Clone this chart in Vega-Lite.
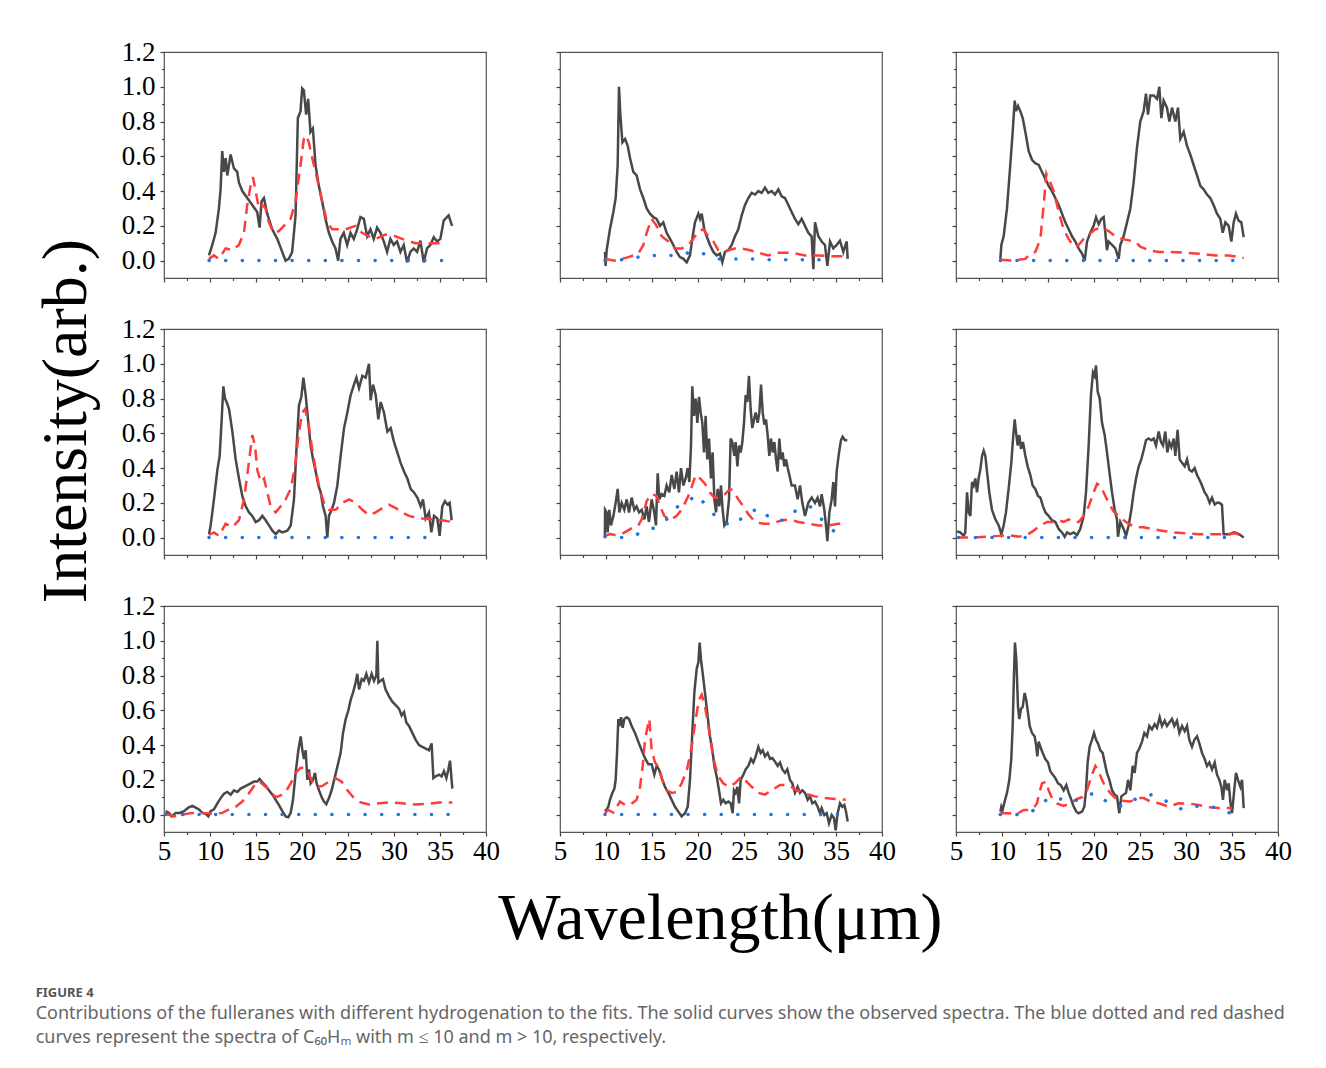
{
"$schema": "https://vega.github.io/schema/vega-lite/v6.json",
"background": "white",
"padding": {"top": 37, "left": 34, "right": 10, "bottom": 10},
"config": {
  "view": {"stroke": "#555555", "strokeWidth": 1.2},
  "axis": {"domain": false, "grid": false, "tickColor": "#444444", "tickWidth": 1.2, "labelFont": "Liberation Serif", "labelFontSize": 27, "labelColor": "#000000", "labelFlush": false, "labelOverlap": false, "labelBound": false}
},
"data": {"values": [
{"p":1,"s":"o","x":9.89,"y":0.03},{"p":1,"s":"o","x":10.25,"y":0.09},{"p":1,"s":"o","x":10.61,"y":0.16},{"p":1,"s":"o","x":10.97,"y":0.30},{"p":1,"s":"o","x":11.15,"y":0.41},{"p":1,"s":"o","x":11.33,"y":0.63},{"p":1,"s":"o","x":11.51,"y":0.51},{"p":1,"s":"o","x":11.70,"y":0.59},{"p":1,"s":"o","x":11.88,"y":0.49},{"p":1,"s":"o","x":12.24,"y":0.61},{"p":1,"s":"o","x":12.60,"y":0.53},{"p":1,"s":"o","x":12.96,"y":0.51},{"p":1,"s":"o","x":13.14,"y":0.45},{"p":1,"s":"o","x":13.51,"y":0.40},{"p":1,"s":"o","x":14.05,"y":0.36},{"p":1,"s":"o","x":14.59,"y":0.32},{"p":1,"s":"o","x":15.13,"y":0.28},{"p":1,"s":"o","x":15.39,"y":0.19},{"p":1,"s":"o","x":15.60,"y":0.34},{"p":1,"s":"o","x":15.86,"y":0.36},{"p":1,"s":"o","x":16.22,"y":0.27},{"p":1,"s":"o","x":16.76,"y":0.18},{"p":1,"s":"o","x":17.31,"y":0.125},{"p":1,"s":"o","x":17.85,"y":0.05},{"p":1,"s":"o","x":18.21,"y":0.0},{"p":1,"s":"o","x":18.57,"y":0.01},{"p":1,"s":"o","x":18.93,"y":0.05},{"p":1,"s":"o","x":19.30,"y":0.26},{"p":1,"s":"o","x":19.55,"y":0.82},{"p":1,"s":"o","x":19.84,"y":0.86},{"p":1,"s":"o","x":20.02,"y":0.99},{"p":1,"s":"o","x":20.20,"y":0.98},{"p":1,"s":"o","x":20.45,"y":0.84},{"p":1,"s":"o","x":20.67,"y":0.93},{"p":1,"s":"o","x":20.92,"y":0.74},{"p":1,"s":"o","x":21.18,"y":0.76},{"p":1,"s":"o","x":21.47,"y":0.55},{"p":1,"s":"o","x":21.83,"y":0.43},{"p":1,"s":"o","x":22.19,"y":0.34},{"p":1,"s":"o","x":22.55,"y":0.24},{"p":1,"s":"o","x":22.92,"y":0.16},{"p":1,"s":"o","x":23.28,"y":0.11},{"p":1,"s":"o","x":23.64,"y":0.07},{"p":1,"s":"o","x":23.93,"y":0.0},{"p":1,"s":"o","x":24.18,"y":0.125},{"p":1,"s":"o","x":24.54,"y":0.16},{"p":1,"s":"o","x":24.91,"y":0.09},{"p":1,"s":"o","x":25.27,"y":0.16},{"p":1,"s":"o","x":25.63,"y":0.125},{"p":1,"s":"o","x":25.99,"y":0.18},{"p":1,"s":"o","x":26.35,"y":0.25},{"p":1,"s":"o","x":26.72,"y":0.24},{"p":1,"s":"o","x":27.08,"y":0.14},{"p":1,"s":"o","x":27.44,"y":0.18},{"p":1,"s":"o","x":27.80,"y":0.125},{"p":1,"s":"o","x":28.16,"y":0.19},{"p":1,"s":"o","x":28.53,"y":0.16},{"p":1,"s":"o","x":28.89,"y":0.11},{"p":1,"s":"o","x":29.25,"y":0.05},{"p":1,"s":"o","x":29.61,"y":0.125},{"p":1,"s":"o","x":29.97,"y":0.09},{"p":1,"s":"o","x":30.33,"y":0.11},{"p":1,"s":"o","x":30.70,"y":0.05},{"p":1,"s":"o","x":31.06,"y":0.09},{"p":1,"s":"o","x":31.42,"y":-0.01},{"p":1,"s":"o","x":31.78,"y":0.05},{"p":1,"s":"o","x":32.14,"y":0.07},{"p":1,"s":"o","x":32.51,"y":0.05},{"p":1,"s":"o","x":32.87,"y":0.115},{"p":1,"s":"o","x":33.23,"y":-0.01},{"p":1,"s":"o","x":33.59,"y":0.07},{"p":1,"s":"o","x":33.95,"y":0.09},{"p":1,"s":"o","x":34.32,"y":0.135},{"p":1,"s":"o","x":34.68,"y":0.11},{"p":1,"s":"o","x":35.04,"y":0.125},{"p":1,"s":"o","x":35.40,"y":0.23},{"p":1,"s":"o","x":35.94,"y":0.26},{"p":1,"s":"o","x":36.31,"y":0.2},
{"p":1,"s":"r","x":9.89,"y":0.01},{"p":1,"s":"r","x":10.43,"y":0.03},{"p":1,"s":"r","x":10.97,"y":0.01},{"p":1,"s":"r","x":11.70,"y":0.07},{"p":1,"s":"r","x":12.43,"y":0.06},{"p":1,"s":"r","x":13.14,"y":0.09},{"p":1,"s":"r","x":13.69,"y":0.16},{"p":1,"s":"r","x":14.05,"y":0.32},{"p":1,"s":"r","x":14.41,"y":0.43},{"p":1,"s":"r","x":14.67,"y":0.48},{"p":1,"s":"r","x":14.96,"y":0.40},{"p":1,"s":"r","x":15.32,"y":0.30},{"p":1,"s":"r","x":15.68,"y":0.32},{"p":1,"s":"r","x":16.04,"y":0.30},{"p":1,"s":"r","x":16.40,"y":0.22},{"p":1,"s":"r","x":16.95,"y":0.16},{"p":1,"s":"r","x":17.49,"y":0.17},{"p":1,"s":"r","x":18.03,"y":0.20},{"p":1,"s":"r","x":18.76,"y":0.24},{"p":1,"s":"r","x":19.30,"y":0.34},{"p":1,"s":"r","x":19.84,"y":0.55},{"p":1,"s":"r","x":20.20,"y":0.70},{"p":1,"s":"r","x":20.45,"y":0.72},{"p":1,"s":"r","x":20.74,"y":0.68},{"p":1,"s":"r","x":21.11,"y":0.59},{"p":1,"s":"r","x":21.65,"y":0.47},{"p":1,"s":"r","x":22.19,"y":0.34},{"p":1,"s":"r","x":22.73,"y":0.22},{"p":1,"s":"r","x":23.28,"y":0.18},{"p":1,"s":"r","x":24.0,"y":0.18},{"p":1,"s":"r","x":24.73,"y":0.18},{"p":1,"s":"r","x":25.81,"y":0.20},{"p":1,"s":"r","x":26.53,"y":0.16},{"p":1,"s":"r","x":27.26,"y":0.14},{"p":1,"s":"r","x":27.98,"y":0.125},{"p":1,"s":"r","x":29.07,"y":0.15},{"p":1,"s":"r","x":30.15,"y":0.14},{"p":1,"s":"r","x":30.88,"y":0.125},{"p":1,"s":"r","x":32.33,"y":0.10},{"p":1,"s":"r","x":33.78,"y":0.10},{"p":1,"s":"r","x":35.23,"y":0.10},
{"p":1,"s":"b","x":9.9,"y":0},{"p":1,"s":"b","x":15,"y":0},{"p":1,"s":"b","x":20,"y":0},{"p":1,"s":"b","x":25,"y":0},{"p":1,"s":"b","x":30,"y":0},{"p":1,"s":"b","x":35.2,"y":0},
{"p":2,"s":"o","x":9.89,"y":0.05},{"p":2,"s":"o","x":9.96,"y":-0.03},{"p":2,"s":"o","x":10.07,"y":0.06},{"p":2,"s":"o","x":10.43,"y":0.18},{"p":2,"s":"o","x":10.80,"y":0.28},{"p":2,"s":"o","x":11.05,"y":0.36},{"p":2,"s":"o","x":11.27,"y":0.55},{"p":2,"s":"o","x":11.41,"y":1.0},{"p":2,"s":"o","x":11.56,"y":0.84},{"p":2,"s":"o","x":11.78,"y":0.68},{"p":2,"s":"o","x":12.07,"y":0.70},{"p":2,"s":"o","x":12.36,"y":0.66},{"p":2,"s":"o","x":12.61,"y":0.59},{"p":2,"s":"o","x":12.97,"y":0.51},{"p":2,"s":"o","x":13.33,"y":0.49},{"p":2,"s":"o","x":13.70,"y":0.41},{"p":2,"s":"o","x":14.06,"y":0.36},{"p":2,"s":"o","x":14.42,"y":0.30},{"p":2,"s":"o","x":14.78,"y":0.27},{"p":2,"s":"o","x":15.14,"y":0.25},{"p":2,"s":"o","x":15.50,"y":0.24},{"p":2,"s":"o","x":15.87,"y":0.20},{"p":2,"s":"o","x":16.23,"y":0.22},{"p":2,"s":"o","x":16.59,"y":0.16},{"p":2,"s":"o","x":16.96,"y":0.125},{"p":2,"s":"o","x":17.32,"y":0.09},{"p":2,"s":"o","x":17.68,"y":0.05},{"p":2,"s":"o","x":18.04,"y":0.02},{"p":2,"s":"o","x":18.41,"y":0.01},{"p":2,"s":"o","x":18.77,"y":-0.01},{"p":2,"s":"o","x":19.13,"y":0.03},{"p":2,"s":"o","x":19.38,"y":0.125},{"p":2,"s":"o","x":19.67,"y":0.22},{"p":2,"s":"o","x":20.04,"y":0.27},{"p":2,"s":"o","x":20.22,"y":0.24},{"p":2,"s":"o","x":20.40,"y":0.27},{"p":2,"s":"o","x":20.69,"y":0.18},{"p":2,"s":"o","x":20.94,"y":0.14},{"p":2,"s":"o","x":21.30,"y":0.09},{"p":2,"s":"o","x":21.67,"y":0.05},{"p":2,"s":"o","x":22.03,"y":0.03},{"p":2,"s":"o","x":22.39,"y":0.04},{"p":2,"s":"o","x":22.64,"y":-0.01},{"p":2,"s":"o","x":22.93,"y":0.05},{"p":2,"s":"o","x":23.30,"y":0.06},{"p":2,"s":"o","x":23.66,"y":0.09},{"p":2,"s":"o","x":24.02,"y":0.14},{"p":2,"s":"o","x":24.38,"y":0.18},{"p":2,"s":"o","x":24.75,"y":0.26},{"p":2,"s":"o","x":25.11,"y":0.32},{"p":2,"s":"o","x":25.47,"y":0.36},{"p":2,"s":"o","x":25.83,"y":0.39},{"p":2,"s":"o","x":26.20,"y":0.38},{"p":2,"s":"o","x":26.56,"y":0.40},{"p":2,"s":"o","x":26.92,"y":0.39},{"p":2,"s":"o","x":27.28,"y":0.42},{"p":2,"s":"o","x":27.64,"y":0.39},{"p":2,"s":"o","x":28.00,"y":0.40},{"p":2,"s":"o","x":28.37,"y":0.38},{"p":2,"s":"o","x":28.73,"y":0.41},{"p":2,"s":"o","x":29.09,"y":0.37},{"p":2,"s":"o","x":29.45,"y":0.36},{"p":2,"s":"o","x":29.82,"y":0.32},{"p":2,"s":"o","x":30.18,"y":0.28},{"p":2,"s":"o","x":30.54,"y":0.24},{"p":2,"s":"o","x":30.90,"y":0.21},{"p":2,"s":"o","x":31.27,"y":0.24},{"p":2,"s":"o","x":31.63,"y":0.20},{"p":2,"s":"o","x":31.99,"y":0.16},{"p":2,"s":"o","x":32.35,"y":0.14},{"p":2,"s":"o","x":32.54,"y":-0.05},{"p":2,"s":"o","x":32.72,"y":0.22},{"p":2,"s":"o","x":33.08,"y":0.14},{"p":2,"s":"o","x":33.44,"y":0.11},{"p":2,"s":"o","x":33.80,"y":0.09},{"p":2,"s":"o","x":34.06,"y":-0.03},{"p":2,"s":"o","x":34.35,"y":0.11},{"p":2,"s":"o","x":34.71,"y":0.07},{"p":2,"s":"o","x":35.07,"y":0.09},{"p":2,"s":"o","x":35.43,"y":0.115},{"p":2,"s":"o","x":35.80,"y":0.05},{"p":2,"s":"o","x":36.16,"y":0.11},{"p":2,"s":"o","x":36.27,"y":0.01},
{"p":2,"s":"r","x":9.89,"y":0.01},{"p":2,"s":"r","x":10.98,"y":0.0},{"p":2,"s":"r","x":12.43,"y":0.02},{"p":2,"s":"r","x":13.51,"y":0.04},{"p":2,"s":"r","x":14.06,"y":0.09},{"p":2,"s":"r","x":14.42,"y":0.16},{"p":2,"s":"r","x":14.96,"y":0.24},{"p":2,"s":"r","x":15.50,"y":0.20},{"p":2,"s":"r","x":16.05,"y":0.14},{"p":2,"s":"r","x":16.78,"y":0.11},{"p":2,"s":"r","x":17.50,"y":0.07},{"p":2,"s":"r","x":18.22,"y":0.07},{"p":2,"s":"r","x":18.95,"y":0.09},{"p":2,"s":"r","x":19.49,"y":0.125},{"p":2,"s":"r","x":20.04,"y":0.17},{"p":2,"s":"r","x":20.58,"y":0.18},{"p":2,"s":"r","x":21.12,"y":0.14},{"p":2,"s":"r","x":21.67,"y":0.11},{"p":2,"s":"r","x":22.21,"y":0.06},{"p":2,"s":"r","x":22.75,"y":0.05},{"p":2,"s":"r","x":23.30,"y":0.06},{"p":2,"s":"r","x":24.02,"y":0.07},{"p":2,"s":"r","x":24.75,"y":0.07},{"p":2,"s":"r","x":25.65,"y":0.06},{"p":2,"s":"r","x":26.56,"y":0.045},{"p":2,"s":"r","x":27.64,"y":0.03},{"p":2,"s":"r","x":28.73,"y":0.045},{"p":2,"s":"r","x":30.18,"y":0.045},{"p":2,"s":"r","x":31.63,"y":0.03},{"p":2,"s":"r","x":33.08,"y":0.03},{"p":2,"s":"r","x":34.53,"y":0.025},{"p":2,"s":"r","x":36.16,"y":0.025},
{"p":2,"s":"b","x":9.89,"y":0.0},{"p":2,"s":"b","x":10.98,"y":0.0},{"p":2,"s":"b","x":12.43,"y":0.01},{"p":2,"s":"b","x":14.60,"y":0.03},{"p":2,"s":"b","x":16.05,"y":0.03},{"p":2,"s":"b","x":17.86,"y":0.03},{"p":2,"s":"b","x":19.31,"y":0.05},{"p":2,"s":"b","x":20.58,"y":0.04},{"p":2,"s":"b","x":22.21,"y":0.01},{"p":2,"s":"b","x":24.02,"y":0.01},{"p":2,"s":"b","x":25.83,"y":0.01},{"p":2,"s":"b","x":27.64,"y":0.005},{"p":2,"s":"b","x":29.45,"y":0.005},{"p":2,"s":"b","x":31.27,"y":0.005},{"p":2,"s":"b","x":33.08,"y":0.005},{"p":2,"s":"b","x":34.71,"y":0.0},
{"p":3,"s":"o","x":9.82,"y":0.01},{"p":3,"s":"o","x":9.93,"y":0.09},{"p":3,"s":"o","x":10.18,"y":0.14},{"p":3,"s":"o","x":10.54,"y":0.30},{"p":3,"s":"o","x":10.90,"y":0.55},{"p":3,"s":"o","x":11.16,"y":0.74},{"p":3,"s":"o","x":11.38,"y":0.92},{"p":3,"s":"o","x":11.52,"y":0.86},{"p":3,"s":"o","x":11.74,"y":0.89},{"p":3,"s":"o","x":11.99,"y":0.86},{"p":3,"s":"o","x":12.25,"y":0.82},{"p":3,"s":"o","x":12.54,"y":0.74},{"p":3,"s":"o","x":12.90,"y":0.63},{"p":3,"s":"o","x":13.26,"y":0.58},{"p":3,"s":"o","x":13.62,"y":0.56},{"p":3,"s":"o","x":13.99,"y":0.55},{"p":3,"s":"o","x":14.35,"y":0.51},{"p":3,"s":"o","x":14.71,"y":0.47},{"p":3,"s":"o","x":15.07,"y":0.43},{"p":3,"s":"o","x":15.43,"y":0.40},{"p":3,"s":"o","x":15.80,"y":0.36},{"p":3,"s":"o","x":16.16,"y":0.32},{"p":3,"s":"o","x":16.52,"y":0.27},{"p":3,"s":"o","x":16.88,"y":0.22},{"p":3,"s":"o","x":17.25,"y":0.18},{"p":3,"s":"o","x":17.61,"y":0.14},{"p":3,"s":"o","x":17.97,"y":0.11},{"p":3,"s":"o","x":18.33,"y":0.07},{"p":3,"s":"o","x":18.70,"y":0.04},{"p":3,"s":"o","x":18.99,"y":0.0},{"p":3,"s":"o","x":19.24,"y":0.11},{"p":3,"s":"o","x":19.60,"y":0.16},{"p":3,"s":"o","x":19.96,"y":0.20},{"p":3,"s":"o","x":20.22,"y":0.25},{"p":3,"s":"o","x":20.51,"y":0.21},{"p":3,"s":"o","x":20.80,"y":0.24},{"p":3,"s":"o","x":21.05,"y":0.25},{"p":3,"s":"o","x":21.23,"y":0.16},{"p":3,"s":"o","x":21.41,"y":0.06},{"p":3,"s":"o","x":21.59,"y":0.11},{"p":3,"s":"o","x":21.96,"y":0.09},{"p":3,"s":"o","x":22.32,"y":0.07},{"p":3,"s":"o","x":22.68,"y":0.01},{"p":3,"s":"o","x":22.86,"y":0.09},{"p":3,"s":"o","x":23.22,"y":0.14},{"p":3,"s":"o","x":23.59,"y":0.22},{"p":3,"s":"o","x":23.95,"y":0.30},{"p":3,"s":"o","x":24.31,"y":0.45},{"p":3,"s":"o","x":24.67,"y":0.65},{"p":3,"s":"o","x":25.03,"y":0.80},{"p":3,"s":"o","x":25.40,"y":0.86},{"p":3,"s":"o","x":25.65,"y":0.96},{"p":3,"s":"o","x":25.87,"y":0.84},{"p":3,"s":"o","x":26.12,"y":0.95},{"p":3,"s":"o","x":26.49,"y":0.95},{"p":3,"s":"o","x":26.85,"y":0.93},{"p":3,"s":"o","x":27.10,"y":1.0},{"p":3,"s":"o","x":27.32,"y":0.82},{"p":3,"s":"o","x":27.57,"y":0.92},{"p":3,"s":"o","x":27.93,"y":0.88},{"p":3,"s":"o","x":28.19,"y":0.80},{"p":3,"s":"o","x":28.48,"y":0.88},{"p":3,"s":"o","x":28.84,"y":0.80},{"p":3,"s":"o","x":29.13,"y":0.88},{"p":3,"s":"o","x":29.38,"y":0.70},{"p":3,"s":"o","x":29.75,"y":0.74},{"p":3,"s":"o","x":30.11,"y":0.66},{"p":3,"s":"o","x":30.47,"y":0.61},{"p":3,"s":"o","x":30.83,"y":0.55},{"p":3,"s":"o","x":31.20,"y":0.49},{"p":3,"s":"o","x":31.56,"y":0.43},{"p":3,"s":"o","x":31.92,"y":0.41},{"p":3,"s":"o","x":32.28,"y":0.38},{"p":3,"s":"o","x":32.64,"y":0.36},{"p":3,"s":"o","x":33.00,"y":0.32},{"p":3,"s":"o","x":33.37,"y":0.27},{"p":3,"s":"o","x":33.73,"y":0.24},{"p":3,"s":"o","x":33.99,"y":0.16},{"p":3,"s":"o","x":34.28,"y":0.22},{"p":3,"s":"o","x":34.64,"y":0.20},{"p":3,"s":"o","x":34.93,"y":0.11},{"p":3,"s":"o","x":35.18,"y":0.22},{"p":3,"s":"o","x":35.43,"y":0.27},{"p":3,"s":"o","x":35.72,"y":0.23},{"p":3,"s":"o","x":36.01,"y":0.22},{"p":3,"s":"o","x":36.27,"y":0.135},
{"p":3,"s":"r","x":9.82,"y":0.005},{"p":3,"s":"r","x":11.09,"y":0.0},{"p":3,"s":"r","x":12.54,"y":0.01},{"p":3,"s":"r","x":13.08,"y":0.04},{"p":3,"s":"r","x":13.62,"y":0.05},{"p":3,"s":"r","x":14.17,"y":0.125},{"p":3,"s":"r","x":14.53,"y":0.32},{"p":3,"s":"r","x":14.82,"y":0.50},{"p":3,"s":"r","x":15.25,"y":0.45},{"p":3,"s":"r","x":15.62,"y":0.40},{"p":3,"s":"r","x":16.16,"y":0.28},{"p":3,"s":"r","x":16.70,"y":0.18},{"p":3,"s":"r","x":17.25,"y":0.125},{"p":3,"s":"r","x":17.79,"y":0.08},{"p":3,"s":"r","x":18.33,"y":0.09},{"p":3,"s":"r","x":18.88,"y":0.125},{"p":3,"s":"r","x":19.42,"y":0.15},{"p":3,"s":"r","x":20.15,"y":0.18},{"p":3,"s":"r","x":20.87,"y":0.19},{"p":3,"s":"r","x":21.59,"y":0.17},{"p":3,"s":"r","x":22.32,"y":0.14},{"p":3,"s":"r","x":23.04,"y":0.125},{"p":3,"s":"r","x":23.95,"y":0.115},{"p":3,"s":"r","x":24.49,"y":0.11},{"p":3,"s":"r","x":25.03,"y":0.08},{"p":3,"s":"r","x":25.94,"y":0.06},{"p":3,"s":"r","x":27.03,"y":0.05},{"p":3,"s":"r","x":28.12,"y":0.05},{"p":3,"s":"r","x":29.93,"y":0.045},{"p":3,"s":"r","x":31.38,"y":0.04},{"p":3,"s":"r","x":33.19,"y":0.03},{"p":3,"s":"r","x":34.64,"y":0.03},{"p":3,"s":"r","x":36.27,"y":0.015},
{"p":3,"s":"b","x":9.82,"y":0},{"p":3,"s":"b","x":15,"y":0},{"p":3,"s":"b","x":20,"y":0},{"p":3,"s":"b","x":25,"y":0},{"p":3,"s":"b","x":30,"y":0},{"p":3,"s":"b","x":35.2,"y":0},
{"p":4,"s":"o","x":9.89,"y":0.02},{"p":4,"s":"o","x":10.07,"y":0.07},{"p":4,"s":"o","x":10.43,"y":0.22},{"p":4,"s":"o","x":10.80,"y":0.39},{"p":4,"s":"o","x":11.05,"y":0.47},{"p":4,"s":"o","x":11.27,"y":0.68},{"p":4,"s":"o","x":11.45,"y":0.87},{"p":4,"s":"o","x":11.63,"y":0.80},{"p":4,"s":"o","x":11.81,"y":0.78},{"p":4,"s":"o","x":12.07,"y":0.74},{"p":4,"s":"o","x":12.43,"y":0.61},{"p":4,"s":"o","x":12.79,"y":0.45},{"p":4,"s":"o","x":13.15,"y":0.34},{"p":4,"s":"o","x":13.51,"y":0.24},{"p":4,"s":"o","x":13.88,"y":0.18},{"p":4,"s":"o","x":14.24,"y":0.145},{"p":4,"s":"o","x":14.60,"y":0.125},{"p":4,"s":"o","x":14.96,"y":0.09},{"p":4,"s":"o","x":15.33,"y":0.10},{"p":4,"s":"o","x":15.69,"y":0.125},{"p":4,"s":"o","x":16.05,"y":0.10},{"p":4,"s":"o","x":16.41,"y":0.07},{"p":4,"s":"o","x":16.78,"y":0.04},{"p":4,"s":"o","x":17.14,"y":0.02},{"p":4,"s":"o","x":17.50,"y":0.04},{"p":4,"s":"o","x":17.86,"y":0.03},{"p":4,"s":"o","x":18.41,"y":0.04},{"p":4,"s":"o","x":18.77,"y":0.07},{"p":4,"s":"o","x":19.13,"y":0.22},{"p":4,"s":"o","x":19.38,"y":0.49},{"p":4,"s":"o","x":19.67,"y":0.76},{"p":4,"s":"o","x":19.93,"y":0.81},{"p":4,"s":"o","x":20.15,"y":0.92},{"p":4,"s":"o","x":20.40,"y":0.82},{"p":4,"s":"o","x":20.69,"y":0.66},{"p":4,"s":"o","x":20.94,"y":0.53},{"p":4,"s":"o","x":21.20,"y":0.45},{"p":4,"s":"o","x":21.49,"y":0.38},{"p":4,"s":"o","x":21.78,"y":0.30},{"p":4,"s":"o","x":22.03,"y":0.26},{"p":4,"s":"o","x":22.28,"y":0.18},{"p":4,"s":"o","x":22.57,"y":0.125},{"p":4,"s":"o","x":22.75,"y":0.0},{"p":4,"s":"o","x":22.93,"y":0.125},{"p":4,"s":"o","x":23.22,"y":0.16},{"p":4,"s":"o","x":23.48,"y":0.20},{"p":4,"s":"o","x":23.84,"y":0.30},{"p":4,"s":"o","x":24.20,"y":0.47},{"p":4,"s":"o","x":24.57,"y":0.63},{"p":4,"s":"o","x":24.93,"y":0.72},{"p":4,"s":"o","x":25.29,"y":0.82},{"p":4,"s":"o","x":25.65,"y":0.88},{"p":4,"s":"o","x":25.91,"y":0.92},{"p":4,"s":"o","x":26.20,"y":0.86},{"p":4,"s":"o","x":26.56,"y":0.93},{"p":4,"s":"o","x":26.92,"y":0.92},{"p":4,"s":"o","x":27.28,"y":1.0},{"p":4,"s":"o","x":27.46,"y":0.79},{"p":4,"s":"o","x":27.72,"y":0.88},{"p":4,"s":"o","x":28.01,"y":0.82},{"p":4,"s":"o","x":28.30,"y":0.68},{"p":4,"s":"o","x":28.55,"y":0.78},{"p":4,"s":"o","x":28.91,"y":0.72},{"p":4,"s":"o","x":29.28,"y":0.61},{"p":4,"s":"o","x":29.64,"y":0.63},{"p":4,"s":"o","x":30.00,"y":0.55},{"p":4,"s":"o","x":30.36,"y":0.49},{"p":4,"s":"o","x":30.72,"y":0.43},{"p":4,"s":"o","x":31.09,"y":0.38},{"p":4,"s":"o","x":31.45,"y":0.34},{"p":4,"s":"o","x":31.81,"y":0.28},{"p":4,"s":"o","x":32.17,"y":0.26},{"p":4,"s":"o","x":32.54,"y":0.23},{"p":4,"s":"o","x":32.90,"y":0.18},{"p":4,"s":"o","x":33.15,"y":0.22},{"p":4,"s":"o","x":33.44,"y":0.11},{"p":4,"s":"o","x":33.80,"y":0.145},{"p":4,"s":"o","x":34.06,"y":0.03},{"p":4,"s":"o","x":34.35,"y":0.125},{"p":4,"s":"o","x":34.71,"y":0.11},{"p":4,"s":"o","x":34.96,"y":0.01},{"p":4,"s":"o","x":35.25,"y":0.18},{"p":4,"s":"o","x":35.54,"y":0.21},{"p":4,"s":"o","x":35.80,"y":0.19},{"p":4,"s":"o","x":36.05,"y":0.20},{"p":4,"s":"o","x":36.27,"y":0.10},
{"p":4,"s":"r","x":9.89,"y":0.015},{"p":4,"s":"r","x":10.43,"y":0.03},{"p":4,"s":"r","x":10.98,"y":0.01},{"p":4,"s":"r","x":11.70,"y":0.08},{"p":4,"s":"r","x":12.43,"y":0.06},{"p":4,"s":"r","x":13.15,"y":0.10},{"p":4,"s":"r","x":13.70,"y":0.22},{"p":4,"s":"r","x":14.17,"y":0.41},{"p":4,"s":"r","x":14.60,"y":0.59},{"p":4,"s":"r","x":14.89,"y":0.53},{"p":4,"s":"r","x":15.14,"y":0.39},{"p":4,"s":"r","x":15.51,"y":0.32},{"p":4,"s":"r","x":15.87,"y":0.34},{"p":4,"s":"r","x":16.23,"y":0.26},{"p":4,"s":"r","x":16.59,"y":0.18},{"p":4,"s":"r","x":17.14,"y":0.145},{"p":4,"s":"r","x":17.68,"y":0.18},{"p":4,"s":"r","x":18.22,"y":0.22},{"p":4,"s":"r","x":18.77,"y":0.28},{"p":4,"s":"r","x":19.24,"y":0.41},{"p":4,"s":"r","x":19.67,"y":0.61},{"p":4,"s":"r","x":20.04,"y":0.72},{"p":4,"s":"r","x":20.33,"y":0.74},{"p":4,"s":"r","x":20.69,"y":0.66},{"p":4,"s":"r","x":21.05,"y":0.53},{"p":4,"s":"r","x":21.49,"y":0.39},{"p":4,"s":"r","x":21.92,"y":0.28},{"p":4,"s":"r","x":22.39,"y":0.20},{"p":4,"s":"r","x":22.93,"y":0.16},{"p":4,"s":"r","x":23.66,"y":0.16},{"p":4,"s":"r","x":24.38,"y":0.20},{"p":4,"s":"r","x":25.11,"y":0.22},{"p":4,"s":"r","x":25.83,"y":0.20},{"p":4,"s":"r","x":26.56,"y":0.16},{"p":4,"s":"r","x":27.28,"y":0.13},{"p":4,"s":"r","x":28.01,"y":0.145},{"p":4,"s":"r","x":28.73,"y":0.17},{"p":4,"s":"r","x":29.46,"y":0.19},{"p":4,"s":"r","x":30.18,"y":0.17},{"p":4,"s":"r","x":30.91,"y":0.145},{"p":4,"s":"r","x":31.63,"y":0.125},{"p":4,"s":"r","x":32.35,"y":0.115},{"p":4,"s":"r","x":33.08,"y":0.11},{"p":4,"s":"r","x":34.17,"y":0.105},{"p":4,"s":"r","x":35.25,"y":0.10},{"p":4,"s":"r","x":36.27,"y":0.09},
{"p":4,"s":"b","x":9.89,"y":0},{"p":4,"s":"b","x":15,"y":0},{"p":4,"s":"b","x":20,"y":0},{"p":4,"s":"b","x":25,"y":0},{"p":4,"s":"b","x":30,"y":0},{"p":4,"s":"b","x":35.07,"y":0},
{"p":5,"s":"o","x":9.88,"y":0.0},{"p":5,"s":"o","x":9.90,"y":0.16},{"p":5,"s":"o","x":10.07,"y":0.145},{"p":5,"s":"o","x":10.18,"y":0.03},{"p":5,"s":"o","x":10.36,"y":0.16},{"p":5,"s":"o","x":10.54,"y":0.07},{"p":5,"s":"o","x":10.80,"y":0.125},{"p":5,"s":"o","x":11.05,"y":0.20},{"p":5,"s":"o","x":11.27,"y":0.28},{"p":5,"s":"o","x":11.45,"y":0.145},{"p":5,"s":"o","x":11.70,"y":0.20},{"p":5,"s":"o","x":11.99,"y":0.16},{"p":5,"s":"o","x":12.25,"y":0.22},{"p":5,"s":"o","x":12.50,"y":0.145},{"p":5,"s":"o","x":12.79,"y":0.23},{"p":5,"s":"o","x":13.08,"y":0.16},{"p":5,"s":"o","x":13.33,"y":0.18},{"p":5,"s":"o","x":13.59,"y":0.145},{"p":5,"s":"o","x":13.88,"y":0.16},{"p":5,"s":"o","x":14.17,"y":0.105},{"p":5,"s":"o","x":14.42,"y":0.18},{"p":5,"s":"o","x":14.67,"y":0.09},{"p":5,"s":"o","x":14.96,"y":0.22},{"p":5,"s":"o","x":15.25,"y":0.145},{"p":5,"s":"o","x":15.43,"y":0.07},{"p":5,"s":"o","x":15.62,"y":0.37},{"p":5,"s":"o","x":15.80,"y":0.22},{"p":5,"s":"o","x":16.05,"y":0.25},{"p":5,"s":"o","x":16.34,"y":0.24},{"p":5,"s":"o","x":16.59,"y":0.30},{"p":5,"s":"o","x":16.88,"y":0.26},{"p":5,"s":"o","x":17.14,"y":0.36},{"p":5,"s":"o","x":17.43,"y":0.28},{"p":5,"s":"o","x":17.68,"y":0.38},{"p":5,"s":"o","x":17.93,"y":0.26},{"p":5,"s":"o","x":18.15,"y":0.40},{"p":5,"s":"o","x":18.41,"y":0.30},{"p":5,"s":"o","x":18.66,"y":0.34},{"p":5,"s":"o","x":18.88,"y":0.40},{"p":5,"s":"o","x":19.06,"y":0.32},{"p":5,"s":"o","x":19.24,"y":0.53},{"p":5,"s":"o","x":19.38,"y":0.87},{"p":5,"s":"o","x":19.56,"y":0.70},{"p":5,"s":"o","x":19.75,"y":0.80},{"p":5,"s":"o","x":19.93,"y":0.66},{"p":5,"s":"o","x":20.11,"y":0.81},{"p":5,"s":"o","x":20.29,"y":0.72},{"p":5,"s":"o","x":20.47,"y":0.66},{"p":5,"s":"o","x":20.65,"y":0.49},{"p":5,"s":"o","x":20.83,"y":0.70},{"p":5,"s":"o","x":21.01,"y":0.45},{"p":5,"s":"o","x":21.20,"y":0.57},{"p":5,"s":"o","x":21.41,"y":0.34},{"p":5,"s":"o","x":21.59,"y":0.49},{"p":5,"s":"o","x":21.78,"y":0.22},{"p":5,"s":"o","x":21.96,"y":0.145},{"p":5,"s":"o","x":22.14,"y":0.28},{"p":5,"s":"o","x":22.32,"y":0.18},{"p":5,"s":"o","x":22.50,"y":0.30},{"p":5,"s":"o","x":22.68,"y":0.16},{"p":5,"s":"o","x":22.86,"y":0.07},{"p":5,"s":"o","x":23.12,"y":0.09},{"p":5,"s":"o","x":23.37,"y":0.22},{"p":5,"s":"o","x":23.55,"y":0.57},{"p":5,"s":"o","x":23.73,"y":0.55},{"p":5,"s":"o","x":23.95,"y":0.47},{"p":5,"s":"o","x":24.09,"y":0.55},{"p":5,"s":"o","x":24.28,"y":0.41},{"p":5,"s":"o","x":24.46,"y":0.53},{"p":5,"s":"o","x":24.64,"y":0.49},{"p":5,"s":"o","x":24.82,"y":0.55},{"p":5,"s":"o","x":25.00,"y":0.66},{"p":5,"s":"o","x":25.18,"y":0.82},{"p":5,"s":"o","x":25.36,"y":0.78},{"p":5,"s":"o","x":25.54,"y":0.93},{"p":5,"s":"o","x":25.72,"y":0.74},{"p":5,"s":"o","x":25.90,"y":0.63},{"p":5,"s":"o","x":26.09,"y":0.68},{"p":5,"s":"o","x":26.27,"y":0.72},{"p":5,"s":"o","x":26.49,"y":0.66},{"p":5,"s":"o","x":26.67,"y":0.72},{"p":5,"s":"o","x":26.85,"y":0.88},{"p":5,"s":"o","x":27.03,"y":0.72},{"p":5,"s":"o","x":27.21,"y":0.65},{"p":5,"s":"o","x":27.39,"y":0.68},{"p":5,"s":"o","x":27.57,"y":0.59},{"p":5,"s":"o","x":27.75,"y":0.47},{"p":5,"s":"o","x":27.93,"y":0.57},{"p":5,"s":"o","x":28.12,"y":0.49},{"p":5,"s":"o","x":28.30,"y":0.55},{"p":5,"s":"o","x":28.48,"y":0.45},{"p":5,"s":"o","x":28.66,"y":0.38},{"p":5,"s":"o","x":28.84,"y":0.57},{"p":5,"s":"o","x":29.02,"y":0.45},{"p":5,"s":"o","x":29.20,"y":0.49},{"p":5,"s":"o","x":29.38,"y":0.41},{"p":5,"s":"o","x":29.57,"y":0.45},{"p":5,"s":"o","x":29.75,"y":0.40},{"p":5,"s":"o","x":29.93,"y":0.36},{"p":5,"s":"o","x":30.18,"y":0.30},{"p":5,"s":"o","x":30.54,"y":0.30},{"p":5,"s":"o","x":30.83,"y":0.22},{"p":5,"s":"o","x":31.09,"y":0.30},{"p":5,"s":"o","x":31.34,"y":0.20},{"p":5,"s":"o","x":31.63,"y":0.125},{"p":5,"s":"o","x":31.99,"y":0.20},{"p":5,"s":"o","x":32.36,"y":0.23},{"p":5,"s":"o","x":32.72,"y":0.20},{"p":5,"s":"o","x":33.00,"y":0.23},{"p":5,"s":"o","x":33.26,"y":0.18},{"p":5,"s":"o","x":33.44,"y":0.25},{"p":5,"s":"o","x":33.73,"y":0.16},{"p":5,"s":"o","x":33.91,"y":0.07},{"p":5,"s":"o","x":34.06,"y":-0.02},{"p":5,"s":"o","x":34.28,"y":0.145},{"p":5,"s":"o","x":34.53,"y":0.22},{"p":5,"s":"o","x":34.71,"y":0.32},{"p":5,"s":"o","x":34.89,"y":0.18},{"p":5,"s":"o","x":35.07,"y":0.38},{"p":5,"s":"o","x":35.33,"y":0.49},{"p":5,"s":"o","x":35.54,"y":0.56},{"p":5,"s":"o","x":35.72,"y":0.58},{"p":5,"s":"o","x":35.98,"y":0.56},{"p":5,"s":"o","x":36.23,"y":0.56},
{"p":5,"s":"r","x":9.89,"y":0.01},{"p":5,"s":"r","x":10.43,"y":0.02},{"p":5,"s":"r","x":10.98,"y":0.015},{"p":5,"s":"r","x":11.70,"y":0.02},{"p":5,"s":"r","x":12.36,"y":0.04},{"p":5,"s":"r","x":12.97,"y":0.06},{"p":5,"s":"r","x":13.51,"y":0.07},{"p":5,"s":"r","x":13.88,"y":0.105},{"p":5,"s":"r","x":14.17,"y":0.16},{"p":5,"s":"r","x":14.42,"y":0.21},{"p":5,"s":"r","x":14.96,"y":0.25},{"p":5,"s":"r","x":15.51,"y":0.24},{"p":5,"s":"r","x":15.87,"y":0.18},{"p":5,"s":"r","x":16.34,"y":0.125},{"p":5,"s":"r","x":16.96,"y":0.10},{"p":5,"s":"r","x":17.68,"y":0.125},{"p":5,"s":"r","x":18.22,"y":0.16},{"p":5,"s":"r","x":18.77,"y":0.22},{"p":5,"s":"r","x":19.13,"y":0.26},{"p":5,"s":"r","x":19.49,"y":0.32},{"p":5,"s":"r","x":19.75,"y":0.36},{"p":5,"s":"r","x":20.22,"y":0.34},{"p":5,"s":"r","x":20.76,"y":0.31},{"p":5,"s":"r","x":21.30,"y":0.26},{"p":5,"s":"r","x":21.78,"y":0.23},{"p":5,"s":"r","x":22.39,"y":0.23},{"p":5,"s":"r","x":22.93,"y":0.25},{"p":5,"s":"r","x":23.48,"y":0.28},{"p":5,"s":"r","x":23.84,"y":0.27},{"p":5,"s":"r","x":24.38,"y":0.22},{"p":5,"s":"r","x":24.93,"y":0.18},{"p":5,"s":"r","x":25.47,"y":0.135},{"p":5,"s":"r","x":26.20,"y":0.09},{"p":5,"s":"r","x":27.10,"y":0.08},{"p":5,"s":"r","x":28.01,"y":0.08},{"p":5,"s":"r","x":29.09,"y":0.10},{"p":5,"s":"r","x":29.99,"y":0.105},{"p":5,"s":"r","x":30.90,"y":0.09},{"p":5,"s":"r","x":31.99,"y":0.08},{"p":5,"s":"r","x":33.08,"y":0.07},{"p":5,"s":"r","x":34.17,"y":0.07},{"p":5,"s":"r","x":35.25,"y":0.08},{"p":5,"s":"r","x":36.16,"y":0.08},
{"p":5,"s":"b","x":9.89,"y":0.005},{"p":5,"s":"b","x":11.34,"y":0.0},{"p":5,"s":"b","x":12.79,"y":0.005},{"p":5,"s":"b","x":14.24,"y":0.04},{"p":5,"s":"b","x":15.51,"y":0.06},{"p":5,"s":"b","x":16.59,"y":0.105},{"p":5,"s":"b","x":17.50,"y":0.17},{"p":5,"s":"b","x":18.77,"y":0.20},{"p":5,"s":"b","x":19.86,"y":0.25},{"p":5,"s":"b","x":20.94,"y":0.18},{"p":5,"s":"b","x":22.21,"y":0.105},{"p":5,"s":"b","x":23.12,"y":0.08},{"p":5,"s":"b","x":24.02,"y":0.07},{"p":5,"s":"b","x":25.11,"y":0.135},{"p":5,"s":"b","x":26.74,"y":0.17},{"p":5,"s":"b","x":28.01,"y":0.10},{"p":5,"s":"b","x":29.45,"y":0.10},{"p":5,"s":"b","x":30.72,"y":0.16},{"p":5,"s":"b","x":32.17,"y":0.18},{"p":5,"s":"b","x":33.44,"y":0.105},{"p":5,"s":"b","x":34.17,"y":0.07},{"p":5,"s":"b","x":34.89,"y":0.03},
{"p":6,"s":"o","x":5.11,"y":0.035},{"p":6,"s":"o","x":5.47,"y":0.03},{"p":6,"s":"o","x":5.83,"y":0.01},{"p":6,"s":"o","x":6.01,"y":0.03},{"p":6,"s":"o","x":6.20,"y":0.26},{"p":6,"s":"o","x":6.38,"y":0.145},{"p":6,"s":"o","x":6.56,"y":0.125},{"p":6,"s":"o","x":6.74,"y":0.32},{"p":6,"s":"o","x":6.92,"y":0.30},{"p":6,"s":"o","x":7.10,"y":0.34},{"p":6,"s":"o","x":7.28,"y":0.26},{"p":6,"s":"o","x":7.46,"y":0.34},{"p":6,"s":"o","x":7.64,"y":0.39},{"p":6,"s":"o","x":7.83,"y":0.47},{"p":6,"s":"o","x":8.01,"y":0.50},{"p":6,"s":"o","x":8.19,"y":0.47},{"p":6,"s":"o","x":8.37,"y":0.38},{"p":6,"s":"o","x":8.62,"y":0.26},{"p":6,"s":"o","x":8.91,"y":0.16},{"p":6,"s":"o","x":9.28,"y":0.105},{"p":6,"s":"o","x":9.64,"y":0.07},{"p":6,"s":"o","x":9.93,"y":0.02},{"p":6,"s":"o","x":10.18,"y":0.07},{"p":6,"s":"o","x":10.43,"y":0.145},{"p":6,"s":"o","x":10.72,"y":0.28},{"p":6,"s":"o","x":11.01,"y":0.43},{"p":6,"s":"o","x":11.20,"y":0.57},{"p":6,"s":"o","x":11.38,"y":0.68},{"p":6,"s":"o","x":11.52,"y":0.61},{"p":6,"s":"o","x":11.70,"y":0.53},{"p":6,"s":"o","x":11.88,"y":0.59},{"p":6,"s":"o","x":12.07,"y":0.51},{"p":6,"s":"o","x":12.28,"y":0.55},{"p":6,"s":"o","x":12.54,"y":0.47},{"p":6,"s":"o","x":12.79,"y":0.41},{"p":6,"s":"o","x":13.08,"y":0.36},{"p":6,"s":"o","x":13.33,"y":0.30},{"p":6,"s":"o","x":13.62,"y":0.28},{"p":6,"s":"o","x":13.91,"y":0.24},{"p":6,"s":"o","x":14.17,"y":0.23},{"p":6,"s":"o","x":14.46,"y":0.18},{"p":6,"s":"o","x":14.71,"y":0.145},{"p":6,"s":"o","x":15.07,"y":0.125},{"p":6,"s":"o","x":15.43,"y":0.10},{"p":6,"s":"o","x":15.80,"y":0.09},{"p":6,"s":"o","x":16.16,"y":0.05},{"p":6,"s":"o","x":16.52,"y":0.03},{"p":6,"s":"o","x":16.81,"y":0.005},{"p":6,"s":"o","x":17.07,"y":0.03},{"p":6,"s":"o","x":17.43,"y":0.02},{"p":6,"s":"o","x":17.79,"y":0.03},{"p":6,"s":"o","x":18.15,"y":0.015},{"p":6,"s":"o","x":18.51,"y":0.05},{"p":6,"s":"o","x":18.88,"y":0.125},{"p":6,"s":"o","x":19.13,"y":0.26},{"p":6,"s":"o","x":19.42,"y":0.53},{"p":6,"s":"o","x":19.67,"y":0.82},{"p":6,"s":"o","x":19.89,"y":0.95},{"p":6,"s":"o","x":20.07,"y":0.93},{"p":6,"s":"o","x":20.22,"y":0.99},{"p":6,"s":"o","x":20.40,"y":0.84},{"p":6,"s":"o","x":20.62,"y":0.80},{"p":6,"s":"o","x":20.87,"y":0.66},{"p":6,"s":"o","x":21.16,"y":0.59},{"p":6,"s":"o","x":21.41,"y":0.49},{"p":6,"s":"o","x":21.67,"y":0.38},{"p":6,"s":"o","x":21.96,"y":0.26},{"p":6,"s":"o","x":22.25,"y":0.16},{"p":6,"s":"o","x":22.50,"y":0.105},{"p":6,"s":"o","x":22.61,"y":0.005},{"p":6,"s":"o","x":22.86,"y":0.09},{"p":6,"s":"o","x":23.22,"y":0.05},{"p":6,"s":"o","x":23.48,"y":0.01},{"p":6,"s":"o","x":23.77,"y":0.07},{"p":6,"s":"o","x":24.06,"y":0.16},{"p":6,"s":"o","x":24.31,"y":0.26},{"p":6,"s":"o","x":24.57,"y":0.34},{"p":6,"s":"o","x":24.86,"y":0.41},{"p":6,"s":"o","x":25.14,"y":0.45},{"p":6,"s":"o","x":25.43,"y":0.51},{"p":6,"s":"o","x":25.65,"y":0.56},{"p":6,"s":"o","x":25.94,"y":0.57},{"p":6,"s":"o","x":26.23,"y":0.56},{"p":6,"s":"o","x":26.49,"y":0.57},{"p":6,"s":"o","x":26.74,"y":0.53},{"p":6,"s":"o","x":27.03,"y":0.61},{"p":6,"s":"o","x":27.28,"y":0.55},{"p":6,"s":"o","x":27.50,"y":0.53},{"p":6,"s":"o","x":27.75,"y":0.61},{"p":6,"s":"o","x":27.97,"y":0.49},{"p":6,"s":"o","x":28.19,"y":0.55},{"p":6,"s":"o","x":28.41,"y":0.52},{"p":6,"s":"o","x":28.66,"y":0.57},{"p":6,"s":"o","x":28.84,"y":0.47},{"p":6,"s":"o","x":29.09,"y":0.62},{"p":6,"s":"o","x":29.31,"y":0.45},{"p":6,"s":"o","x":29.57,"y":0.43},{"p":6,"s":"o","x":29.86,"y":0.41},{"p":6,"s":"o","x":30.11,"y":0.45},{"p":6,"s":"o","x":30.36,"y":0.39},{"p":6,"s":"o","x":30.65,"y":0.38},{"p":6,"s":"o","x":30.94,"y":0.40},{"p":6,"s":"o","x":31.20,"y":0.36},{"p":6,"s":"o","x":31.49,"y":0.33},{"p":6,"s":"o","x":31.74,"y":0.30},{"p":6,"s":"o","x":32.03,"y":0.26},{"p":6,"s":"o","x":32.28,"y":0.24},{"p":6,"s":"o","x":32.57,"y":0.20},{"p":6,"s":"o","x":32.83,"y":0.23},{"p":6,"s":"o","x":33.12,"y":0.19},{"p":6,"s":"o","x":33.37,"y":0.20},{"p":6,"s":"o","x":33.62,"y":0.20},{"p":6,"s":"o","x":33.91,"y":0.19},{"p":6,"s":"o","x":34.09,"y":0.02},{"p":6,"s":"o","x":34.46,"y":0.02},{"p":6,"s":"o","x":34.82,"y":0.02},{"p":6,"s":"o","x":35.18,"y":0.03},{"p":6,"s":"o","x":35.54,"y":0.025},{"p":6,"s":"o","x":35.91,"y":0.015},{"p":6,"s":"o","x":36.27,"y":0.0},
{"p":6,"s":"r","x":5.11,"y":0.0},{"p":6,"s":"r","x":6.74,"y":0.0},{"p":6,"s":"r","x":8.19,"y":0.005},{"p":6,"s":"r","x":9.64,"y":0.01},{"p":6,"s":"r","x":10.72,"y":0.015},{"p":6,"s":"r","x":11.81,"y":0.005},{"p":6,"s":"r","x":12.72,"y":0.015},{"p":6,"s":"r","x":13.44,"y":0.04},{"p":6,"s":"r","x":14.17,"y":0.07},{"p":6,"s":"r","x":14.89,"y":0.09},{"p":6,"s":"r","x":15.62,"y":0.09},{"p":6,"s":"r","x":16.16,"y":0.10},{"p":6,"s":"r","x":16.70,"y":0.09},{"p":6,"s":"r","x":17.25,"y":0.105},{"p":6,"s":"r","x":17.79,"y":0.09},{"p":6,"s":"r","x":18.33,"y":0.09},{"p":6,"s":"r","x":18.88,"y":0.125},{"p":6,"s":"r","x":19.42,"y":0.18},{"p":6,"s":"r","x":19.96,"y":0.26},{"p":6,"s":"r","x":20.33,"y":0.31},{"p":6,"s":"r","x":20.69,"y":0.30},{"p":6,"s":"r","x":21.05,"y":0.26},{"p":6,"s":"r","x":21.59,"y":0.20},{"p":6,"s":"r","x":22.14,"y":0.15},{"p":6,"s":"r","x":22.68,"y":0.125},{"p":6,"s":"r","x":23.22,"y":0.10},{"p":6,"s":"r","x":23.77,"y":0.08},{"p":6,"s":"r","x":24.49,"y":0.06},{"p":6,"s":"r","x":25.40,"y":0.06},{"p":6,"s":"r","x":26.30,"y":0.05},{"p":6,"s":"r","x":27.39,"y":0.04},{"p":6,"s":"r","x":28.48,"y":0.03},{"p":6,"s":"r","x":29.93,"y":0.025},{"p":6,"s":"r","x":31.38,"y":0.02},{"p":6,"s":"r","x":32.83,"y":0.02},{"p":6,"s":"r","x":34.28,"y":0.02},{"p":6,"s":"r","x":35.36,"y":0.025},{"p":6,"s":"r","x":36.09,"y":0.01},
{"p":6,"s":"b","x":5.3,"y":0},{"p":6,"s":"b","x":10,"y":0},{"p":6,"s":"b","x":15,"y":0},{"p":6,"s":"b","x":20,"y":0},{"p":6,"s":"b","x":25,"y":0},{"p":6,"s":"b","x":30,"y":0},{"p":6,"s":"b","x":35.9,"y":0},
{"p":7,"s":"o","x":5.18,"y":0.02},{"p":7,"s":"o","x":5.54,"y":0.01},{"p":7,"s":"o","x":5.83,"y":-0.01},{"p":7,"s":"o","x":6.27,"y":0.01},{"p":7,"s":"o","x":6.70,"y":0.01},{"p":7,"s":"o","x":7.17,"y":0.02},{"p":7,"s":"o","x":7.64,"y":0.04},{"p":7,"s":"o","x":8.08,"y":0.05},{"p":7,"s":"o","x":8.44,"y":0.04},{"p":7,"s":"o","x":8.80,"y":0.03},{"p":7,"s":"o","x":9.17,"y":0.01},{"p":7,"s":"o","x":9.53,"y":0.005},{"p":7,"s":"o","x":9.82,"y":-0.01},{"p":7,"s":"o","x":10.07,"y":0.02},{"p":7,"s":"o","x":10.43,"y":0.03},{"p":7,"s":"o","x":10.80,"y":0.065},{"p":7,"s":"o","x":11.16,"y":0.095},{"p":7,"s":"o","x":11.52,"y":0.12},{"p":7,"s":"o","x":11.88,"y":0.13},{"p":7,"s":"o","x":12.25,"y":0.115},{"p":7,"s":"o","x":12.61,"y":0.14},{"p":7,"s":"o","x":12.97,"y":0.13},{"p":7,"s":"o","x":13.33,"y":0.15},{"p":7,"s":"o","x":13.70,"y":0.16},{"p":7,"s":"o","x":14.06,"y":0.17},{"p":7,"s":"o","x":14.42,"y":0.18},{"p":7,"s":"o","x":14.78,"y":0.19},{"p":7,"s":"o","x":15.14,"y":0.19},{"p":7,"s":"o","x":15.40,"y":0.205},{"p":7,"s":"o","x":15.69,"y":0.185},{"p":7,"s":"o","x":16.05,"y":0.165},{"p":7,"s":"o","x":16.41,"y":0.14},{"p":7,"s":"o","x":16.78,"y":0.115},{"p":7,"s":"o","x":17.14,"y":0.085},{"p":7,"s":"o","x":17.50,"y":0.055},{"p":7,"s":"o","x":17.86,"y":0.02},{"p":7,"s":"o","x":18.22,"y":-0.01},{"p":7,"s":"o","x":18.51,"y":-0.015},{"p":7,"s":"o","x":18.77,"y":0.01},{"p":7,"s":"o","x":19.02,"y":0.085},{"p":7,"s":"o","x":19.31,"y":0.24},{"p":7,"s":"o","x":19.60,"y":0.37},{"p":7,"s":"o","x":19.86,"y":0.45},{"p":7,"s":"o","x":20.04,"y":0.37},{"p":7,"s":"o","x":20.22,"y":0.32},{"p":7,"s":"o","x":20.40,"y":0.37},{"p":7,"s":"o","x":20.58,"y":0.20},{"p":7,"s":"o","x":20.76,"y":0.26},{"p":7,"s":"o","x":20.94,"y":0.18},{"p":7,"s":"o","x":21.20,"y":0.20},{"p":7,"s":"o","x":21.41,"y":0.24},{"p":7,"s":"o","x":21.59,"y":0.18},{"p":7,"s":"o","x":21.85,"y":0.14},{"p":7,"s":"o","x":22.14,"y":0.10},{"p":7,"s":"o","x":22.39,"y":0.075},{"p":7,"s":"o","x":22.64,"y":0.06},{"p":7,"s":"o","x":22.93,"y":0.095},{"p":7,"s":"o","x":23.22,"y":0.14},{"p":7,"s":"o","x":23.59,"y":0.22},{"p":7,"s":"o","x":23.95,"y":0.30},{"p":7,"s":"o","x":24.20,"y":0.355},{"p":7,"s":"o","x":24.46,"y":0.47},{"p":7,"s":"o","x":24.75,"y":0.55},{"p":7,"s":"o","x":25.04,"y":0.60},{"p":7,"s":"o","x":25.29,"y":0.66},{"p":7,"s":"o","x":25.54,"y":0.70},{"p":7,"s":"o","x":25.83,"y":0.76},{"p":7,"s":"o","x":26.01,"y":0.81},{"p":7,"s":"o","x":26.20,"y":0.72},{"p":7,"s":"o","x":26.49,"y":0.78},{"p":7,"s":"o","x":26.74,"y":0.77},{"p":7,"s":"o","x":26.99,"y":0.81},{"p":7,"s":"o","x":27.28,"y":0.76},{"p":7,"s":"o","x":27.57,"y":0.81},{"p":7,"s":"o","x":27.83,"y":0.77},{"p":7,"s":"o","x":28.08,"y":0.80},{"p":7,"s":"o","x":28.19,"y":1.0},{"p":7,"s":"o","x":28.30,"y":0.76},{"p":7,"s":"o","x":28.55,"y":0.77},{"p":7,"s":"o","x":28.80,"y":0.78},{"p":7,"s":"o","x":29.09,"y":0.72},{"p":7,"s":"o","x":29.46,"y":0.68},{"p":7,"s":"o","x":29.82,"y":0.65},{"p":7,"s":"o","x":30.18,"y":0.63},{"p":7,"s":"o","x":30.54,"y":0.61},{"p":7,"s":"o","x":30.83,"y":0.57},{"p":7,"s":"o","x":31.09,"y":0.59},{"p":7,"s":"o","x":31.34,"y":0.53},{"p":7,"s":"o","x":31.63,"y":0.51},{"p":7,"s":"o","x":31.99,"y":0.47},{"p":7,"s":"o","x":32.36,"y":0.43},{"p":7,"s":"o","x":32.72,"y":0.40},{"p":7,"s":"o","x":33.08,"y":0.39},{"p":7,"s":"o","x":33.44,"y":0.38},{"p":7,"s":"o","x":33.80,"y":0.37},{"p":7,"s":"o","x":34.09,"y":0.41},{"p":7,"s":"o","x":34.28,"y":0.21},{"p":7,"s":"o","x":34.53,"y":0.22},{"p":7,"s":"o","x":34.89,"y":0.23},{"p":7,"s":"o","x":35.18,"y":0.22},{"p":7,"s":"o","x":35.43,"y":0.25},{"p":7,"s":"o","x":35.69,"y":0.21},{"p":7,"s":"o","x":35.91,"y":0.26},{"p":7,"s":"o","x":36.09,"y":0.31},{"p":7,"s":"o","x":36.34,"y":0.15},
{"p":7,"s":"r","x":5.18,"y":0.005},{"p":7,"s":"r","x":6.09,"y":-0.01},{"p":7,"s":"r","x":6.99,"y":0.0},{"p":7,"s":"r","x":8.08,"y":0.01},{"p":7,"s":"r","x":9.17,"y":0.01},{"p":7,"s":"r","x":10.25,"y":0.005},{"p":7,"s":"r","x":11.34,"y":0.01},{"p":7,"s":"r","x":12.07,"y":0.03},{"p":7,"s":"r","x":12.79,"y":0.045},{"p":7,"s":"r","x":13.51,"y":0.075},{"p":7,"s":"r","x":14.06,"y":0.11},{"p":7,"s":"r","x":14.60,"y":0.15},{"p":7,"s":"r","x":15.04,"y":0.185},{"p":7,"s":"r","x":15.40,"y":0.19},{"p":7,"s":"r","x":16.05,"y":0.16},{"p":7,"s":"r","x":16.59,"y":0.13},{"p":7,"s":"r","x":17.14,"y":0.10},{"p":7,"s":"r","x":17.68,"y":0.11},{"p":7,"s":"r","x":18.22,"y":0.13},{"p":7,"s":"r","x":18.77,"y":0.18},{"p":7,"s":"r","x":19.31,"y":0.24},{"p":7,"s":"r","x":19.86,"y":0.27},{"p":7,"s":"r","x":20.22,"y":0.27},{"p":7,"s":"r","x":20.69,"y":0.24},{"p":7,"s":"r","x":21.12,"y":0.19},{"p":7,"s":"r","x":21.67,"y":0.16},{"p":7,"s":"r","x":22.21,"y":0.165},{"p":7,"s":"r","x":22.93,"y":0.19},{"p":7,"s":"r","x":23.66,"y":0.21},{"p":7,"s":"r","x":24.31,"y":0.19},{"p":7,"s":"r","x":24.93,"y":0.14},{"p":7,"s":"r","x":25.65,"y":0.095},{"p":7,"s":"r","x":26.38,"y":0.07},{"p":7,"s":"r","x":27.28,"y":0.058},{"p":7,"s":"r","x":28.37,"y":0.065},{"p":7,"s":"r","x":29.46,"y":0.07},{"p":7,"s":"r","x":30.91,"y":0.065},{"p":7,"s":"r","x":32.36,"y":0.058},{"p":7,"s":"r","x":33.80,"y":0.062},{"p":7,"s":"r","x":34.89,"y":0.07},{"p":7,"s":"r","x":36.34,"y":0.07},
{"p":7,"s":"b","x":5.2,"y":0},{"p":7,"s":"b","x":10,"y":0},{"p":7,"s":"b","x":15,"y":0},{"p":7,"s":"b","x":20,"y":0},{"p":7,"s":"b","x":25,"y":0},{"p":7,"s":"b","x":30,"y":0},{"p":7,"s":"b","x":36.0,"y":0},
{"p":8,"s":"o","x":9.89,"y":0.02},{"p":8,"s":"o","x":10.07,"y":0.03},{"p":8,"s":"o","x":10.25,"y":0.045},{"p":8,"s":"o","x":10.43,"y":0.085},{"p":8,"s":"o","x":10.69,"y":0.125},{"p":8,"s":"o","x":10.91,"y":0.15},{"p":8,"s":"o","x":11.05,"y":0.20},{"p":8,"s":"o","x":11.20,"y":0.355},{"p":8,"s":"o","x":11.34,"y":0.55},{"p":8,"s":"o","x":11.49,"y":0.51},{"p":8,"s":"o","x":11.63,"y":0.56},{"p":8,"s":"o","x":11.81,"y":0.50},{"p":8,"s":"o","x":11.99,"y":0.55},{"p":8,"s":"o","x":12.25,"y":0.56},{"p":8,"s":"o","x":12.50,"y":0.55},{"p":8,"s":"o","x":12.79,"y":0.51},{"p":8,"s":"o","x":13.15,"y":0.47},{"p":8,"s":"o","x":13.51,"y":0.42},{"p":8,"s":"o","x":13.88,"y":0.37},{"p":8,"s":"o","x":14.24,"y":0.325},{"p":8,"s":"o","x":14.60,"y":0.29},{"p":8,"s":"o","x":14.96,"y":0.29},{"p":8,"s":"o","x":15.25,"y":0.23},{"p":8,"s":"o","x":15.51,"y":0.28},{"p":8,"s":"o","x":15.76,"y":0.26},{"p":8,"s":"o","x":16.05,"y":0.21},{"p":8,"s":"o","x":16.41,"y":0.16},{"p":8,"s":"o","x":16.78,"y":0.125},{"p":8,"s":"o","x":17.14,"y":0.085},{"p":8,"s":"o","x":17.50,"y":0.045},{"p":8,"s":"o","x":17.86,"y":0.017},{"p":8,"s":"o","x":18.22,"y":-0.01},{"p":8,"s":"o","x":18.59,"y":0.008},{"p":8,"s":"o","x":18.88,"y":0.045},{"p":8,"s":"o","x":19.13,"y":0.20},{"p":8,"s":"o","x":19.38,"y":0.47},{"p":8,"s":"o","x":19.60,"y":0.70},{"p":8,"s":"o","x":19.86,"y":0.84},{"p":8,"s":"o","x":20.04,"y":0.875},{"p":8,"s":"o","x":20.18,"y":0.99},{"p":8,"s":"o","x":20.33,"y":0.89},{"p":8,"s":"o","x":20.54,"y":0.80},{"p":8,"s":"o","x":20.76,"y":0.70},{"p":8,"s":"o","x":21.01,"y":0.585},{"p":8,"s":"o","x":21.30,"y":0.45},{"p":8,"s":"o","x":21.56,"y":0.37},{"p":8,"s":"o","x":21.78,"y":0.28},{"p":8,"s":"o","x":22.03,"y":0.22},{"p":8,"s":"o","x":22.28,"y":0.14},{"p":8,"s":"o","x":22.50,"y":0.065},{"p":8,"s":"o","x":22.75,"y":0.085},{"p":8,"s":"o","x":23.01,"y":0.065},{"p":8,"s":"o","x":23.30,"y":0.075},{"p":8,"s":"o","x":23.55,"y":0.065},{"p":8,"s":"o","x":23.77,"y":0.008},{"p":8,"s":"o","x":23.91,"y":0.14},{"p":8,"s":"o","x":24.09,"y":0.125},{"p":8,"s":"o","x":24.28,"y":0.16},{"p":8,"s":"o","x":24.46,"y":0.065},{"p":8,"s":"o","x":24.64,"y":0.20},{"p":8,"s":"o","x":24.93,"y":0.23},{"p":8,"s":"o","x":25.18,"y":0.26},{"p":8,"s":"o","x":25.47,"y":0.28},{"p":8,"s":"o","x":25.76,"y":0.32},{"p":8,"s":"o","x":26.01,"y":0.30},{"p":8,"s":"o","x":26.27,"y":0.335},{"p":8,"s":"o","x":26.56,"y":0.39},{"p":8,"s":"o","x":26.81,"y":0.355},{"p":8,"s":"o","x":27.03,"y":0.37},{"p":8,"s":"o","x":27.28,"y":0.335},{"p":8,"s":"o","x":27.57,"y":0.355},{"p":8,"s":"o","x":27.83,"y":0.32},{"p":8,"s":"o","x":28.08,"y":0.325},{"p":8,"s":"o","x":28.37,"y":0.305},{"p":8,"s":"o","x":28.66,"y":0.28},{"p":8,"s":"o","x":28.91,"y":0.30},{"p":8,"s":"o","x":29.17,"y":0.26},{"p":8,"s":"o","x":29.46,"y":0.24},{"p":8,"s":"o","x":29.71,"y":0.26},{"p":8,"s":"o","x":30.00,"y":0.20},{"p":8,"s":"o","x":30.25,"y":0.18},{"p":8,"s":"o","x":30.54,"y":0.125},{"p":8,"s":"o","x":30.83,"y":0.16},{"p":8,"s":"o","x":31.09,"y":0.125},{"p":8,"s":"o","x":31.34,"y":0.14},{"p":8,"s":"o","x":31.63,"y":0.125},{"p":8,"s":"o","x":31.92,"y":0.085},{"p":8,"s":"o","x":32.17,"y":0.105},{"p":8,"s":"o","x":32.43,"y":0.065},{"p":8,"s":"o","x":32.72,"y":0.075},{"p":8,"s":"o","x":33.01,"y":0.045},{"p":8,"s":"o","x":33.26,"y":0.008},{"p":8,"s":"o","x":33.44,"y":0.037},{"p":8,"s":"o","x":33.73,"y":-0.002},{"p":8,"s":"o","x":33.99,"y":0.008},{"p":8,"s":"o","x":34.24,"y":-0.05},{"p":8,"s":"o","x":34.53,"y":-0.002},{"p":8,"s":"o","x":34.78,"y":-0.02},{"p":8,"s":"o","x":34.96,"y":-0.09},{"p":8,"s":"o","x":35.18,"y":0.008},{"p":8,"s":"o","x":35.43,"y":0.065},{"p":8,"s":"o","x":35.69,"y":0.045},{"p":8,"s":"o","x":35.91,"y":0.055},{"p":8,"s":"o","x":36.09,"y":0.017},{"p":8,"s":"o","x":36.27,"y":-0.04},
{"p":8,"s":"r","x":9.89,"y":0.008},{"p":8,"s":"r","x":10.25,"y":0.027},{"p":8,"s":"r","x":10.80,"y":0.012},{"p":8,"s":"r","x":11.52,"y":0.075},{"p":8,"s":"r","x":12.07,"y":0.056},{"p":8,"s":"r","x":12.61,"y":0.056},{"p":8,"s":"r","x":13.33,"y":0.085},{"p":8,"s":"r","x":13.70,"y":0.16},{"p":8,"s":"r","x":13.99,"y":0.28},{"p":8,"s":"r","x":14.24,"y":0.43},{"p":8,"s":"r","x":14.53,"y":0.51},{"p":8,"s":"r","x":14.71,"y":0.55},{"p":8,"s":"r","x":14.96,"y":0.37},{"p":8,"s":"r","x":15.33,"y":0.30},{"p":8,"s":"r","x":15.76,"y":0.27},{"p":8,"s":"r","x":16.12,"y":0.20},{"p":8,"s":"r","x":16.59,"y":0.14},{"p":8,"s":"r","x":17.14,"y":0.125},{"p":8,"s":"r","x":17.68,"y":0.13},{"p":8,"s":"r","x":18.22,"y":0.18},{"p":8,"s":"r","x":18.77,"y":0.25},{"p":8,"s":"r","x":19.31,"y":0.39},{"p":8,"s":"r","x":19.75,"y":0.55},{"p":8,"s":"r","x":20.11,"y":0.66},{"p":8,"s":"r","x":20.40,"y":0.69},{"p":8,"s":"r","x":20.69,"y":0.64},{"p":8,"s":"r","x":21.01,"y":0.55},{"p":8,"s":"r","x":21.41,"y":0.41},{"p":8,"s":"r","x":21.78,"y":0.30},{"p":8,"s":"r","x":22.21,"y":0.22},{"p":8,"s":"r","x":22.75,"y":0.18},{"p":8,"s":"r","x":23.30,"y":0.16},{"p":8,"s":"r","x":24.02,"y":0.18},{"p":8,"s":"r","x":24.75,"y":0.22},{"p":8,"s":"r","x":25.29,"y":0.19},{"p":8,"s":"r","x":25.83,"y":0.16},{"p":8,"s":"r","x":26.56,"y":0.125},{"p":8,"s":"r","x":27.28,"y":0.115},{"p":8,"s":"r","x":28.01,"y":0.14},{"p":8,"s":"r","x":28.91,"y":0.17},{"p":8,"s":"r","x":29.82,"y":0.17},{"p":8,"s":"r","x":30.72,"y":0.14},{"p":8,"s":"r","x":31.63,"y":0.12},{"p":8,"s":"r","x":32.72,"y":0.105},{"p":8,"s":"r","x":33.80,"y":0.095},{"p":8,"s":"r","x":34.89,"y":0.09},{"p":8,"s":"r","x":36.05,"y":0.085},
{"p":8,"s":"b","x":9.89,"y":0},{"p":8,"s":"b","x":15,"y":0},{"p":8,"s":"b","x":20,"y":0},{"p":8,"s":"b","x":25,"y":0},{"p":8,"s":"b","x":30,"y":0},{"p":8,"s":"b","x":35.25,"y":0},
{"p":9,"s":"o","x":9.82,"y":0.017},{"p":9,"s":"o","x":9.93,"y":0.046},{"p":9,"s":"o","x":10.07,"y":0.027},{"p":9,"s":"o","x":10.29,"y":0.075},{"p":9,"s":"o","x":10.54,"y":0.125},{"p":9,"s":"o","x":10.80,"y":0.20},{"p":9,"s":"o","x":11.01,"y":0.32},{"p":9,"s":"o","x":11.16,"y":0.51},{"p":9,"s":"o","x":11.30,"y":0.80},{"p":9,"s":"o","x":11.41,"y":0.99},{"p":9,"s":"o","x":11.56,"y":0.89},{"p":9,"s":"o","x":11.74,"y":0.62},{"p":9,"s":"o","x":11.88,"y":0.55},{"p":9,"s":"o","x":12.07,"y":0.61},{"p":9,"s":"o","x":12.25,"y":0.62},{"p":9,"s":"o","x":12.46,"y":0.70},{"p":9,"s":"o","x":12.64,"y":0.66},{"p":9,"s":"o","x":12.83,"y":0.585},{"p":9,"s":"o","x":13.01,"y":0.51},{"p":9,"s":"o","x":13.26,"y":0.47},{"p":9,"s":"o","x":13.55,"y":0.45},{"p":9,"s":"o","x":13.73,"y":0.39},{"p":9,"s":"o","x":13.84,"y":0.335},{"p":9,"s":"o","x":13.99,"y":0.42},{"p":9,"s":"o","x":14.17,"y":0.39},{"p":9,"s":"o","x":14.42,"y":0.355},{"p":9,"s":"o","x":14.71,"y":0.32},{"p":9,"s":"o","x":15.00,"y":0.30},{"p":9,"s":"o","x":15.25,"y":0.25},{"p":9,"s":"o","x":15.51,"y":0.23},{"p":9,"s":"o","x":15.80,"y":0.21},{"p":9,"s":"o","x":16.09,"y":0.18},{"p":9,"s":"o","x":16.38,"y":0.17},{"p":9,"s":"o","x":16.70,"y":0.14},{"p":9,"s":"o","x":16.99,"y":0.17},{"p":9,"s":"o","x":17.25,"y":0.125},{"p":9,"s":"o","x":17.54,"y":0.085},{"p":9,"s":"o","x":17.79,"y":0.046},{"p":9,"s":"o","x":18.08,"y":0.017},{"p":9,"s":"o","x":18.33,"y":0.008},{"p":9,"s":"o","x":18.70,"y":0.017},{"p":9,"s":"o","x":18.95,"y":0.046},{"p":9,"s":"o","x":19.13,"y":0.14},{"p":9,"s":"o","x":19.31,"y":0.30},{"p":9,"s":"o","x":19.53,"y":0.39},{"p":9,"s":"o","x":19.78,"y":0.43},{"p":9,"s":"o","x":20.00,"y":0.47},{"p":9,"s":"o","x":20.22,"y":0.43},{"p":9,"s":"o","x":20.43,"y":0.41},{"p":9,"s":"o","x":20.69,"y":0.37},{"p":9,"s":"o","x":20.94,"y":0.355},{"p":9,"s":"o","x":21.16,"y":0.30},{"p":9,"s":"o","x":21.41,"y":0.24},{"p":9,"s":"o","x":21.67,"y":0.20},{"p":9,"s":"o","x":21.96,"y":0.14},{"p":9,"s":"o","x":22.25,"y":0.115},{"p":9,"s":"o","x":22.50,"y":0.105},{"p":9,"s":"o","x":22.75,"y":0.008},{"p":9,"s":"o","x":22.97,"y":0.105},{"p":9,"s":"o","x":23.22,"y":0.115},{"p":9,"s":"o","x":23.48,"y":0.125},{"p":9,"s":"o","x":23.70,"y":0.20},{"p":9,"s":"o","x":23.95,"y":0.14},{"p":9,"s":"o","x":24.20,"y":0.28},{"p":9,"s":"o","x":24.42,"y":0.24},{"p":9,"s":"o","x":24.67,"y":0.355},{"p":9,"s":"o","x":24.93,"y":0.38},{"p":9,"s":"o","x":25.22,"y":0.42},{"p":9,"s":"o","x":25.47,"y":0.47},{"p":9,"s":"o","x":25.76,"y":0.45},{"p":9,"s":"o","x":26.01,"y":0.51},{"p":9,"s":"o","x":26.30,"y":0.49},{"p":9,"s":"o","x":26.59,"y":0.52},{"p":9,"s":"o","x":26.85,"y":0.50},{"p":9,"s":"o","x":27.14,"y":0.56},{"p":9,"s":"o","x":27.39,"y":0.51},{"p":9,"s":"o","x":27.68,"y":0.54},{"p":9,"s":"o","x":27.93,"y":0.51},{"p":9,"s":"o","x":28.19,"y":0.53},{"p":9,"s":"o","x":28.48,"y":0.55},{"p":9,"s":"o","x":28.73,"y":0.51},{"p":9,"s":"o","x":29.02,"y":0.54},{"p":9,"s":"o","x":29.28,"y":0.47},{"p":9,"s":"o","x":29.57,"y":0.51},{"p":9,"s":"o","x":29.86,"y":0.48},{"p":9,"s":"o","x":30.11,"y":0.51},{"p":9,"s":"o","x":30.36,"y":0.43},{"p":9,"s":"o","x":30.65,"y":0.39},{"p":9,"s":"o","x":30.91,"y":0.43},{"p":9,"s":"o","x":31.20,"y":0.45},{"p":9,"s":"o","x":31.45,"y":0.41},{"p":9,"s":"o","x":31.74,"y":0.355},{"p":9,"s":"o","x":32.03,"y":0.32},{"p":9,"s":"o","x":32.28,"y":0.28},{"p":9,"s":"o","x":32.54,"y":0.30},{"p":9,"s":"o","x":32.83,"y":0.26},{"p":9,"s":"o","x":33.12,"y":0.30},{"p":9,"s":"o","x":33.37,"y":0.23},{"p":9,"s":"o","x":33.62,"y":0.20},{"p":9,"s":"o","x":33.84,"y":0.16},{"p":9,"s":"o","x":34.02,"y":0.085},{"p":9,"s":"o","x":34.20,"y":0.20},{"p":9,"s":"o","x":34.46,"y":0.14},{"p":9,"s":"o","x":34.64,"y":0.18},{"p":9,"s":"o","x":34.82,"y":0.075},{"p":9,"s":"o","x":35.00,"y":0.008},{"p":9,"s":"o","x":35.18,"y":0.105},{"p":9,"s":"o","x":35.43,"y":0.24},{"p":9,"s":"o","x":35.65,"y":0.20},{"p":9,"s":"o","x":35.91,"y":0.16},{"p":9,"s":"o","x":36.09,"y":0.20},{"p":9,"s":"o","x":36.27,"y":0.037},
{"p":9,"s":"r","x":9.82,"y":0.008},{"p":9,"s":"r","x":10.72,"y":0.008},{"p":9,"s":"r","x":11.63,"y":0.004},{"p":9,"s":"r","x":12.35,"y":0.027},{"p":9,"s":"r","x":12.90,"y":0.027},{"p":9,"s":"r","x":13.44,"y":0.037},{"p":9,"s":"r","x":13.80,"y":0.065},{"p":9,"s":"r","x":14.06,"y":0.125},{"p":9,"s":"r","x":14.35,"y":0.18},{"p":9,"s":"r","x":14.78,"y":0.19},{"p":9,"s":"r","x":15.07,"y":0.14},{"p":9,"s":"r","x":15.43,"y":0.095},{"p":9,"s":"r","x":15.98,"y":0.065},{"p":9,"s":"r","x":16.70,"y":0.05},{"p":9,"s":"r","x":17.43,"y":0.065},{"p":9,"s":"r","x":18.15,"y":0.09},{"p":9,"s":"r","x":18.70,"y":0.10},{"p":9,"s":"r","x":19.24,"y":0.14},{"p":9,"s":"r","x":19.71,"y":0.22},{"p":9,"s":"r","x":20.15,"y":0.28},{"p":9,"s":"r","x":20.51,"y":0.25},{"p":9,"s":"r","x":20.87,"y":0.20},{"p":9,"s":"r","x":21.23,"y":0.16},{"p":9,"s":"r","x":21.77,"y":0.125},{"p":9,"s":"r","x":22.32,"y":0.095},{"p":9,"s":"r","x":23.04,"y":0.08},{"p":9,"s":"r","x":23.95,"y":0.075},{"p":9,"s":"r","x":24.67,"y":0.095},{"p":9,"s":"r","x":25.40,"y":0.095},{"p":9,"s":"r","x":26.12,"y":0.075},{"p":9,"s":"r","x":27.03,"y":0.065},{"p":9,"s":"r","x":28.12,"y":0.046},{"p":9,"s":"r","x":29.20,"y":0.065},{"p":9,"s":"r","x":30.29,"y":0.062},{"p":9,"s":"r","x":31.38,"y":0.056},{"p":9,"s":"r","x":32.46,"y":0.042},{"p":9,"s":"r","x":33.55,"y":0.038},{"p":9,"s":"r","x":35.00,"y":0.037},
{"p":9,"s":"b","x":9.82,"y":0.0},{"p":9,"s":"b","x":10.72,"y":0.002},{"p":9,"s":"b","x":11.63,"y":0.0},{"p":9,"s":"b","x":12.72,"y":0.008},{"p":9,"s":"b","x":13.99,"y":0.037},{"p":9,"s":"b","x":15.07,"y":0.10},{"p":9,"s":"b","x":16.34,"y":0.09},{"p":9,"s":"b","x":17.61,"y":0.07},{"p":9,"s":"b","x":18.88,"y":0.105},{"p":9,"s":"b","x":20.15,"y":0.125},{"p":9,"s":"b","x":21.60,"y":0.065},{"p":9,"s":"b","x":23.22,"y":0.046},{"p":9,"s":"b","x":24.67,"y":0.095},{"p":9,"s":"b","x":26.30,"y":0.115},{"p":9,"s":"b","x":27.93,"y":0.075},{"p":9,"s":"b","x":29.57,"y":0.03},{"p":9,"s":"b","x":31.38,"y":0.05},{"p":9,"s":"b","x":33.19,"y":0.042},{"p":9,"s":"b","x":34.82,"y":0.008}
]},
"title": {"text": "FIGURE 4", "subtitle": ["Contributions of the fulleranes with different hydrogenation to the fits. The solid curves show the observed spectra. The blue dotted and red dashed", "curves represent the spectra of C₆₀Hₘ with m ≤ 10 and m > 10, respectively."], "orient": "bottom", "anchor": "start", "font": "Noto Sans", "fontSize": 13, "fontWeight": "bold", "color": "#555555", "subtitleFont": "Noto Sans", "subtitleFontSize": 18, "subtitleColor": "#666666", "subtitleLineHeight": 24, "subtitlePadding": 5, "offset": 35, "dx": 1},
"vconcat": [{
  "title": {"text": "Wavelength(μm)", "orient": "bottom", "anchor": "middle", "font": "Liberation Serif", "fontSize": 66, "fontWeight": "normal", "color": "#000000", "offset": 22, "dx": 57},
  "vconcat": [{
    "title": {"text": "Intensity(arb.)", "orient": "left", "anchor": "middle", "font": "Liberation Serif", "fontSize": 64, "fontWeight": "normal", "color": "#000000", "offset": 22, "dx": 30},
    "columns": 3,
    "spacing": {"row": 51, "column": 74},
    "bounds": "flush",
    "concat": [
      {"width": 322, "height": 226, "encoding": {"x": {"field": "x", "type": "quantitative", "title": null, "scale": {"domain": [5, 40], "nice": false, "zero": false}, "axis": {"values": [5,7.5,10,12.5,15,17.5,20,22.5,25,27.5,30,32.5,35,37.5,40], "labels": false, "tickSize": {"condition": {"test": "datum.value % 5 == 0", "value": 4}, "value": 2.5}}}, "y": {"field": "y", "type": "quantitative", "title": null, "scale": {"domain": [-0.1, 1.2], "nice": false, "zero": false}, "axis": {"values": [0,0.1,0.2,0.3,0.4,0.5,0.6,0.7,0.8,0.9,1,1.1,1.2], "format": ".1f", "labelExpr": "abs(datum.value*5-round(datum.value*5))<0.001 ? datum.label : ''", "labelPadding": 5, "tickSize": {"condition": {"test": "abs(datum.value*5-round(datum.value*5))<0.001", "value": 4}, "value": 2.5}}}},
       "layer": [
        {"transform": [{"filter": "datum.p == 1 && datum.s == 'o'"}], "mark": {"type": "line", "color": "#484848", "strokeWidth": 2.5}},
        {"transform": [{"filter": "datum.p == 1 && datum.s == 'r'"}], "mark": {"type": "line", "color": "#ff3b3b", "strokeWidth": 2.5, "strokeDash": [11, 7]}},
        {"transform": [{"filter": "datum.p == 1 && datum.s == 'b'"}], "mark": {"type": "line", "color": "#1f74e0", "strokeWidth": 3.5, "strokeDash": [0.1, 16.5], "strokeCap": "round"}},
        {"data": {"values": [{"n": "06530-0213"}]}, "mark": {"type": "text", "align": "left", "baseline": "middle", "font": "Liberation Serif", "fontSize": 21, "color": "#000000"}, "encoding": {"x": {"datum": 5.8}, "y": {"datum": 1.095}, "text": {"field": "n"}}}
       ]},
      {"width": 322, "height": 226, "encoding": {"x": {"field": "x", "type": "quantitative", "title": null, "scale": {"domain": [5, 40], "nice": false, "zero": false}, "axis": {"values": [5,7.5,10,12.5,15,17.5,20,22.5,25,27.5,30,32.5,35,37.5,40], "labels": false, "tickSize": {"condition": {"test": "datum.value % 5 == 0", "value": 4}, "value": 2.5}}}, "y": {"field": "y", "type": "quantitative", "title": null, "scale": {"domain": [-0.1, 1.2], "nice": false, "zero": false}, "axis": {"values": [0,0.1,0.2,0.3,0.4,0.5,0.6,0.7,0.8,0.9,1,1.1,1.2], "labels": false, "tickSize": {"condition": {"test": "abs(datum.value*5-round(datum.value*5))<0.001", "value": 4}, "value": 2.5}}}},
       "layer": [
        {"transform": [{"filter": "datum.p == 2 && datum.s == 'o'"}], "mark": {"type": "line", "color": "#484848", "strokeWidth": 2.5}},
        {"transform": [{"filter": "datum.p == 2 && datum.s == 'r'"}], "mark": {"type": "line", "color": "#ff3b3b", "strokeWidth": 2.5, "strokeDash": [11, 7]}},
        {"transform": [{"filter": "datum.p == 2 && datum.s == 'b'"}], "mark": {"type": "line", "color": "#1f74e0", "strokeWidth": 3.5, "strokeDash": [0.1, 16.5], "strokeCap": "round"}},
        {"data": {"values": [{"n": "05341+0852"}]}, "mark": {"type": "text", "align": "left", "baseline": "middle", "font": "Liberation Serif", "fontSize": 21, "color": "#000000"}, "encoding": {"x": {"datum": 5.8}, "y": {"datum": 1.095}, "text": {"field": "n"}}}
       ]},
      {"width": 322, "height": 226, "encoding": {"x": {"field": "x", "type": "quantitative", "title": null, "scale": {"domain": [5, 40], "nice": false, "zero": false}, "axis": {"values": [5,7.5,10,12.5,15,17.5,20,22.5,25,27.5,30,32.5,35,37.5,40], "labels": false, "tickSize": {"condition": {"test": "datum.value % 5 == 0", "value": 4}, "value": 2.5}}}, "y": {"field": "y", "type": "quantitative", "title": null, "scale": {"domain": [-0.1, 1.2], "nice": false, "zero": false}, "axis": {"values": [0,0.1,0.2,0.3,0.4,0.5,0.6,0.7,0.8,0.9,1,1.1,1.2], "labels": false, "tickSize": {"condition": {"test": "abs(datum.value*5-round(datum.value*5))<0.001", "value": 4}, "value": 2.5}}}},
       "layer": [
        {"transform": [{"filter": "datum.p == 3 && datum.s == 'o'"}], "mark": {"type": "line", "color": "#484848", "strokeWidth": 2.5}},
        {"transform": [{"filter": "datum.p == 3 && datum.s == 'r'"}], "mark": {"type": "line", "color": "#ff3b3b", "strokeWidth": 2.5, "strokeDash": [11, 7]}},
        {"transform": [{"filter": "datum.p == 3 && datum.s == 'b'"}], "mark": {"type": "line", "color": "#1f74e0", "strokeWidth": 3.5, "strokeDash": [0.1, 16.5], "strokeCap": "round"}},
        {"data": {"values": [{"n": "07430+1115"}]}, "mark": {"type": "text", "align": "left", "baseline": "middle", "font": "Liberation Serif", "fontSize": 21, "color": "#000000"}, "encoding": {"x": {"datum": 5.8}, "y": {"datum": 1.095}, "text": {"field": "n"}}}
       ]},
      {"width": 322, "height": 226, "encoding": {"x": {"field": "x", "type": "quantitative", "title": null, "scale": {"domain": [5, 40], "nice": false, "zero": false}, "axis": {"values": [5,7.5,10,12.5,15,17.5,20,22.5,25,27.5,30,32.5,35,37.5,40], "labels": false, "tickSize": {"condition": {"test": "datum.value % 5 == 0", "value": 4}, "value": 2.5}}}, "y": {"field": "y", "type": "quantitative", "title": null, "scale": {"domain": [-0.1, 1.2], "nice": false, "zero": false}, "axis": {"values": [0,0.1,0.2,0.3,0.4,0.5,0.6,0.7,0.8,0.9,1,1.1,1.2], "format": ".1f", "labelExpr": "abs(datum.value*5-round(datum.value*5))<0.001 ? datum.label : ''", "labelPadding": 5, "tickSize": {"condition": {"test": "abs(datum.value*5-round(datum.value*5))<0.001", "value": 4}, "value": 2.5}}}},
       "layer": [
        {"transform": [{"filter": "datum.p == 4 && datum.s == 'o'"}], "mark": {"type": "line", "color": "#484848", "strokeWidth": 2.5}},
        {"transform": [{"filter": "datum.p == 4 && datum.s == 'r'"}], "mark": {"type": "line", "color": "#ff3b3b", "strokeWidth": 2.5, "strokeDash": [11, 7]}},
        {"transform": [{"filter": "datum.p == 4 && datum.s == 'b'"}], "mark": {"type": "line", "color": "#1f74e0", "strokeWidth": 3.5, "strokeDash": [0.1, 16.5], "strokeCap": "round"}},
        {"data": {"values": [{"n": "05113+1347"}]}, "mark": {"type": "text", "align": "left", "baseline": "middle", "font": "Liberation Serif", "fontSize": 21, "color": "#000000"}, "encoding": {"x": {"datum": 5.8}, "y": {"datum": 1.095}, "text": {"field": "n"}}}
       ]},
      {"width": 322, "height": 226, "encoding": {"x": {"field": "x", "type": "quantitative", "title": null, "scale": {"domain": [5, 40], "nice": false, "zero": false}, "axis": {"values": [5,7.5,10,12.5,15,17.5,20,22.5,25,27.5,30,32.5,35,37.5,40], "labels": false, "tickSize": {"condition": {"test": "datum.value % 5 == 0", "value": 4}, "value": 2.5}}}, "y": {"field": "y", "type": "quantitative", "title": null, "scale": {"domain": [-0.1, 1.2], "nice": false, "zero": false}, "axis": {"values": [0,0.1,0.2,0.3,0.4,0.5,0.6,0.7,0.8,0.9,1,1.1,1.2], "labels": false, "tickSize": {"condition": {"test": "abs(datum.value*5-round(datum.value*5))<0.001", "value": 4}, "value": 2.5}}}},
       "layer": [
        {"transform": [{"filter": "datum.p == 5 && datum.s == 'o'"}], "mark": {"type": "line", "color": "#484848", "strokeWidth": 2.5}},
        {"transform": [{"filter": "datum.p == 5 && datum.s == 'r'"}], "mark": {"type": "line", "color": "#ff3b3b", "strokeWidth": 2.5, "strokeDash": [11, 7]}},
        {"transform": [{"filter": "datum.p == 5 && datum.s == 'b'"}], "mark": {"type": "line", "color": "#1f74e0", "strokeWidth": 3.5, "strokeDash": [0.1, 16.5], "strokeCap": "round"}},
        {"data": {"values": [{"n": "19477+2401"}]}, "mark": {"type": "text", "align": "left", "baseline": "middle", "font": "Liberation Serif", "fontSize": 21, "color": "#000000"}, "encoding": {"x": {"datum": 5.5}, "y": {"datum": 1.115}, "text": {"field": "n"}}}
       ]},
      {"width": 322, "height": 226, "encoding": {"x": {"field": "x", "type": "quantitative", "title": null, "scale": {"domain": [5, 40], "nice": false, "zero": false}, "axis": {"values": [5,7.5,10,12.5,15,17.5,20,22.5,25,27.5,30,32.5,35,37.5,40], "labels": false, "tickSize": {"condition": {"test": "datum.value % 5 == 0", "value": 4}, "value": 2.5}}}, "y": {"field": "y", "type": "quantitative", "title": null, "scale": {"domain": [-0.1, 1.2], "nice": false, "zero": false}, "axis": {"values": [0,0.1,0.2,0.3,0.4,0.5,0.6,0.7,0.8,0.9,1,1.1,1.2], "labels": false, "tickSize": {"condition": {"test": "abs(datum.value*5-round(datum.value*5))<0.001", "value": 4}, "value": 2.5}}}},
       "layer": [
        {"transform": [{"filter": "datum.p == 6 && datum.s == 'o'"}], "mark": {"type": "line", "color": "#484848", "strokeWidth": 2.5}},
        {"transform": [{"filter": "datum.p == 6 && datum.s == 'r'"}], "mark": {"type": "line", "color": "#ff3b3b", "strokeWidth": 2.5, "strokeDash": [11, 7]}},
        {"transform": [{"filter": "datum.p == 6 && datum.s == 'b'"}], "mark": {"type": "line", "color": "#1f74e0", "strokeWidth": 3.5, "strokeDash": [0.1, 16.5], "strokeCap": "round"}},
        {"data": {"values": [{"n": "04296+3429"}]}, "mark": {"type": "text", "align": "left", "baseline": "middle", "font": "Liberation Serif", "fontSize": 21, "color": "#000000"}, "encoding": {"x": {"datum": 5.8}, "y": {"datum": 1.095}, "text": {"field": "n"}}}
       ]},
      {"width": 322, "height": 226, "encoding": {"x": {"field": "x", "type": "quantitative", "title": null, "scale": {"domain": [5, 40], "nice": false, "zero": false}, "axis": {"values": [5,7.5,10,12.5,15,17.5,20,22.5,25,27.5,30,32.5,35,37.5,40], "format": "d", "labelExpr": "datum.value % 5 == 0 ? datum.label : ''", "labelPadding": 2, "tickSize": {"condition": {"test": "datum.value % 5 == 0", "value": 4}, "value": 2.5}}}, "y": {"field": "y", "type": "quantitative", "title": null, "scale": {"domain": [-0.1, 1.2], "nice": false, "zero": false}, "axis": {"values": [0,0.1,0.2,0.3,0.4,0.5,0.6,0.7,0.8,0.9,1,1.1,1.2], "format": ".1f", "labelExpr": "abs(datum.value*5-round(datum.value*5))<0.001 ? datum.label : ''", "labelPadding": 5, "tickSize": {"condition": {"test": "abs(datum.value*5-round(datum.value*5))<0.001", "value": 4}, "value": 2.5}}}},
       "layer": [
        {"transform": [{"filter": "datum.p == 7 && datum.s == 'o'"}], "mark": {"type": "line", "color": "#484848", "strokeWidth": 2.5}},
        {"transform": [{"filter": "datum.p == 7 && datum.s == 'r'"}], "mark": {"type": "line", "color": "#ff3b3b", "strokeWidth": 2.5, "strokeDash": [11, 7]}},
        {"transform": [{"filter": "datum.p == 7 && datum.s == 'b'"}], "mark": {"type": "line", "color": "#1f74e0", "strokeWidth": 3.5, "strokeDash": [0.1, 16.5], "strokeCap": "round"}},
        {"data": {"values": [{"n": "22223+4327"}]}, "mark": {"type": "text", "align": "left", "baseline": "middle", "font": "Liberation Serif", "fontSize": 21, "color": "#000000"}, "encoding": {"x": {"datum": 5.8}, "y": {"datum": 1.095}, "text": {"field": "n"}}}
       ]},
      {"width": 322, "height": 226, "encoding": {"x": {"field": "x", "type": "quantitative", "title": null, "scale": {"domain": [5, 40], "nice": false, "zero": false}, "axis": {"values": [5,7.5,10,12.5,15,17.5,20,22.5,25,27.5,30,32.5,35,37.5,40], "format": "d", "labelExpr": "datum.value % 5 == 0 ? datum.label : ''", "labelPadding": 2, "tickSize": {"condition": {"test": "datum.value % 5 == 0", "value": 4}, "value": 2.5}}}, "y": {"field": "y", "type": "quantitative", "title": null, "scale": {"domain": [-0.1, 1.2], "nice": false, "zero": false}, "axis": {"values": [0,0.1,0.2,0.3,0.4,0.5,0.6,0.7,0.8,0.9,1,1.1,1.2], "labels": false, "tickSize": {"condition": {"test": "abs(datum.value*5-round(datum.value*5))<0.001", "value": 4}, "value": 2.5}}}},
       "layer": [
        {"transform": [{"filter": "datum.p == 8 && datum.s == 'o'"}], "mark": {"type": "line", "color": "#484848", "strokeWidth": 2.5}},
        {"transform": [{"filter": "datum.p == 8 && datum.s == 'r'"}], "mark": {"type": "line", "color": "#ff3b3b", "strokeWidth": 2.5, "strokeDash": [11, 7]}},
        {"transform": [{"filter": "datum.p == 8 && datum.s == 'b'"}], "mark": {"type": "line", "color": "#1f74e0", "strokeWidth": 3.5, "strokeDash": [0.1, 16.5], "strokeCap": "round"}},
        {"data": {"values": [{"n": "23304+6147"}]}, "mark": {"type": "text", "align": "left", "baseline": "middle", "font": "Liberation Serif", "fontSize": 21, "color": "#000000"}, "encoding": {"x": {"datum": 5.5}, "y": {"datum": 1.115}, "text": {"field": "n"}}}
       ]},
      {"width": 322, "height": 226, "encoding": {"x": {"field": "x", "type": "quantitative", "title": null, "scale": {"domain": [5, 40], "nice": false, "zero": false}, "axis": {"values": [5,7.5,10,12.5,15,17.5,20,22.5,25,27.5,30,32.5,35,37.5,40], "format": "d", "labelExpr": "datum.value % 5 == 0 ? datum.label : ''", "labelPadding": 2, "tickSize": {"condition": {"test": "datum.value % 5 == 0", "value": 4}, "value": 2.5}}}, "y": {"field": "y", "type": "quantitative", "title": null, "scale": {"domain": [-0.1, 1.2], "nice": false, "zero": false}, "axis": {"values": [0,0.1,0.2,0.3,0.4,0.5,0.6,0.7,0.8,0.9,1,1.1,1.2], "labels": false, "tickSize": {"condition": {"test": "abs(datum.value*5-round(datum.value*5))<0.001", "value": 4}, "value": 2.5}}}},
       "layer": [
        {"transform": [{"filter": "datum.p == 9 && datum.s == 'o'"}], "mark": {"type": "line", "color": "#484848", "strokeWidth": 2.5}},
        {"transform": [{"filter": "datum.p == 9 && datum.s == 'r'"}], "mark": {"type": "line", "color": "#ff3b3b", "strokeWidth": 2.5, "strokeDash": [11, 7]}},
        {"transform": [{"filter": "datum.p == 9 && datum.s == 'b'"}], "mark": {"type": "line", "color": "#1f74e0", "strokeWidth": 3.5, "strokeDash": [0.1, 16.5], "strokeCap": "round"}},
        {"data": {"values": [{"n": "22574+6609"}]}, "mark": {"type": "text", "align": "left", "baseline": "middle", "font": "Liberation Serif", "fontSize": 21, "color": "#000000"}, "encoding": {"x": {"datum": 5.5}, "y": {"datum": 1.115}, "text": {"field": "n"}}}
       ]}
    ]
  }]
}]
}
